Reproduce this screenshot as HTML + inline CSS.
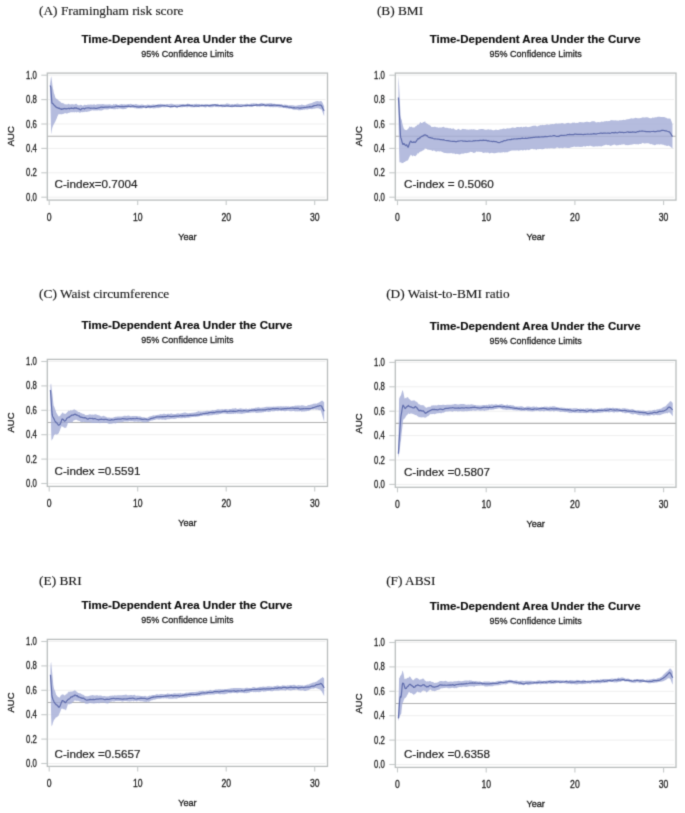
<!DOCTYPE html>
<html><head><meta charset="utf-8"><title>Time-Dependent AUC</title>
<style>
html,body{margin:0;padding:0;background:#fff;}
body{width:685px;height:813px;overflow:hidden;font-family:"Liberation Sans",sans-serif;}
svg{display:block}
text{font-family:"Liberation Sans",sans-serif;fill:#222;}
.lb{font-family:"Liberation Serif",serif;font-size:13.3px;fill:#1a1a1a;stroke:#1a1a1a;stroke-width:0.15px}
.tt{font-weight:bold;font-size:11.7px;fill:#0c0c0c;stroke:#0c0c0c;stroke-width:0.15px}
.st{font-size:9.6px;fill:#222;stroke:#1c1c1c;stroke-width:0.28px}
.tk{font-size:10.1px;fill:#222;stroke:#222;stroke-width:0.3px}
.ax{font-size:9.8px;fill:#1c1c1c;stroke:#1c1c1c;stroke-width:0.32px}
.ci{font-size:11.5px;fill:#222;stroke:#222;stroke-width:0.2px}
</style></head>
<body>
<svg width="685" height="813" viewBox="0 0 685 813">
<defs><filter id="sb" x="0" y="0" width="100%" height="100%" filterUnits="userSpaceOnUse" color-interpolation-filters="sRGB"><feConvolveMatrix order="3" kernelMatrix="1 5 1 5 25 5 1 5 1" edgeMode="duplicate" preserveAlpha="true"/></filter></defs>
<g filter="url(#sb)">
<rect width="685" height="813" fill="#fff"/>
<g>
<text x="39.1" y="14.9" class="lb">(A) Framingham risk score</text>
<text x="186.9" y="42.9" class="tt" text-anchor="middle" textLength="210.8" lengthAdjust="spacingAndGlyphs">Time-Dependent Area Under the Curve</text>
<text x="187.4" y="56.7" class="st" text-anchor="middle" textLength="92.2" lengthAdjust="spacingAndGlyphs">95% Confidence Limits</text>
<rect x="47.3" y="73.1" width="280.2" height="127" fill="#fff"/>
<line x1="47.3" x2="325.5" y1="197.2" y2="197.2" stroke="#efefef" stroke-width="1"/>
<line x1="47.3" x2="325.5" y1="172.8" y2="172.8" stroke="#efefef" stroke-width="1"/>
<line x1="47.3" x2="325.5" y1="148.4" y2="148.4" stroke="#efefef" stroke-width="1"/>
<line x1="47.3" x2="325.5" y1="124" y2="124" stroke="#efefef" stroke-width="1"/>
<line x1="47.3" x2="325.5" y1="99.6" y2="99.6" stroke="#efefef" stroke-width="1"/>
<line x1="47.3" x2="325.5" y1="75.2" y2="75.2" stroke="#efefef" stroke-width="1"/>
<line x1="47.3" x2="327.5" y1="136.2" y2="136.2" stroke="#b0b0b0" stroke-width="1.1"/>
<g class="d">
<polygon points="50.09,83.62 50.44,81.45 50.79,78.3 51.15,76.24 51.5,77.95 51.86,80.38 52.21,83.39 52.56,86.21 52.92,88.71 53.27,89.42 53.62,91.71 53.98,93.49 54.33,94.03 54.69,95.18 55.04,96.52 55.4,97.66 55.75,98.2 56.1,98.53 56.46,98.79 56.81,99.07 57.17,99.31 57.52,99.41 57.87,99.54 58.23,100.14 58.58,100.13 58.94,100.92 59.29,100.92 59.64,101.23 60,101.61 60.35,101.74 60.71,101.96 61.06,102.66 61.41,102.92 61.77,102.7 62.12,102.81 62.48,103.04 62.83,103.15 63.18,103.16 63.54,103.39 63.89,103.62 64.25,103.7 64.6,104.37 64.95,104.43 65.31,104.25 65.66,104.28 66.02,104.5 66.37,104.13 66.72,104.51 67.08,104.47 67.43,104.38 67.79,104.07 68.14,103.97 68.49,103.72 68.85,103.75 69.2,104.26 69.56,104.37 69.91,104.41 70.26,104.52 70.62,104.38 70.97,104.26 71.33,104.05 71.68,104.4 72.03,104.32 72.39,104.37 72.74,104.12 73.1,104.57 73.45,104.28 73.8,104.4 74.16,104.35 74.51,104.38 74.87,104.46 75.22,104.08 75.57,104.1 75.93,103.79 76.28,103.79 76.64,103.98 76.99,104.22 77.34,104.64 77.7,105 78.05,104.97 78.41,105.33 78.76,105.41 79.11,105.12 79.47,105.54 79.82,105.31 80.18,105.03 80.53,104.8 80.88,104.64 81.24,104.89 81.59,105.11 81.95,105.12 82.3,105.51 82.65,105.93 83.01,105.79 83.36,105.6 83.72,105.25 84.07,105.03 84.42,104.74 84.78,104.8 85.84,105.05 86.9,105.08 87.96,104.61 89.03,104.71 90.09,104.58 91.15,104.41 92.21,104.82 93.27,104.44 94.34,104.3 95.4,105.04 96.46,104.44 97.52,104.25 98.58,104.27 99.65,104.21 100.71,104.34 101.77,104.15 102.83,104.01 103.89,104.37 104.96,104.43 106.02,104.41 107.08,104.39 108.14,104.53 109.2,104.37 110.27,104.46 111.33,104.67 112.39,104.91 113.45,104.07 114.51,104.47 115.58,104.02 116.64,104.23 117.7,104.65 118.76,105.11 119.82,104.57 120.89,104.17 121.95,104.06 123.01,104.44 124.07,104.18 125.13,104.55 126.2,104.59 127.26,104.25 128.32,103.93 129.38,104.22 130.44,103.74 131.5,103.94 132.57,104.54 133.63,104.44 134.69,104.43 135.75,103.93 136.81,104.15 137.88,104.69 138.94,104.69 140,104.96 141.06,104.58 142.12,104.48 143.19,104.77 144.25,105.11 145.31,105.12 146.37,105.07 147.43,104.59 148.5,104.78 149.56,104.86 150.62,104.93 151.68,104.81 152.74,104.54 153.81,104.54 154.87,104.73 155.93,104.72 156.99,104.75 158.05,103.93 159.12,104.32 160.18,103.66 161.24,103.95 162.3,103.96 163.36,104.21 164.43,104.31 165.49,104.4 166.55,104.08 167.61,103.88 168.67,104.16 169.74,104 170.8,103.73 171.86,103.74 172.92,104.07 173.98,104.61 175.05,104.51 176.11,104.42 177.17,104.13 178.23,104.49 179.29,104.26 180.36,104.32 181.42,104.37 182.48,103.99 183.54,104.06 184.6,104.22 185.67,104.72 186.73,104.1 187.79,103.54 188.85,104.04 189.91,104.31 190.98,104.53 192.04,104.08 193.1,104.47 194.16,104.04 195.22,104.04 196.29,103.64 197.35,104.12 198.41,104.01 199.47,104.05 200.53,104.55 201.6,104.45 202.66,104.28 203.72,104.57 204.78,104.22 205.84,103.97 206.91,104.22 207.97,104.28 209.03,104.38 210.09,104.36 211.15,104.48 212.22,104.28 213.28,104.15 214.34,104.43 215.4,104.17 216.46,104.02 217.53,103.72 218.59,104.52 219.65,104.67 220.71,104.73 221.77,104.31 222.84,104.29 223.9,104.32 224.96,104.26 226.02,103.64 227.08,103.34 228.15,103.66 229.21,103.73 230.27,104.41 231.33,104.2 232.39,103.93 233.46,104.38 234.52,103.92 235.58,104.01 236.64,103.66 237.7,103.57 238.77,103.93 239.83,104.13 240.89,104.06 241.95,103.92 243.01,104.21 244.08,104.13 245.14,104.01 246.2,103.85 247.26,103.81 248.33,104.03 249.39,104 250.45,103.78 251.51,103.51 252.57,103.54 253.64,103.33 254.7,103.46 255.76,103.54 256.82,103.58 257.88,103.95 258.95,103.68 260.01,103.46 261.07,103.03 262.13,103.12 263.19,103.55 264.26,103.44 265.32,103.71 266.38,103.44 267.44,103.59 268.5,103.61 269.57,103.24 270.63,103.35 271.69,103.3 272.75,103.78 273.81,103.84 274.88,103.87 275.94,104.16 277,104.06 278.06,104.33 279.12,104.16 280.19,104.21 281.25,104.07 282.31,104.52 283.37,104.88 284.43,104.62 285.5,104.72 286.56,104.74 287.62,105.05 288.68,105.61 289.74,105.15 290.81,105.37 291.87,105.36 292.93,105.22 293.99,105.54 295.05,105.74 296.12,105.65 297.18,105.4 298.24,105.25 299.3,105.11 300.36,105.17 301.43,104.62 302.49,104.81 303.55,104.94 304.61,105.28 305.67,105.15 306.74,104.52 307.8,104.22 308.86,103.72 309.92,103.53 310.98,103.31 312.05,103.01 313.11,102.34 314.17,101.97 315.23,101.5 316.29,101.34 317.36,101.12 318.42,101.37 319.48,101.48 320.54,101.04 321.6,101.28 322.67,103.12 323.73,105.5 324.17,106.59 324.17,116.11 323.73,115.22 322.67,112.37 321.6,109.46 320.54,109.16 319.48,108.63 318.42,108.28 317.36,108.21 316.29,108.37 315.23,108.56 314.17,108.82 313.11,108.87 312.05,109.21 310.98,108.89 309.92,108.98 308.86,109.08 307.8,109.58 306.74,109.5 305.67,109.16 304.61,109.7 303.55,109.61 302.49,109.93 301.43,109.91 300.36,110.32 299.3,110.23 298.24,110.23 297.18,109.78 296.12,109.72 295.05,109.63 293.99,109.77 292.93,109.51 291.87,109.07 290.81,108.76 289.74,108.99 288.68,108.63 287.62,108.27 286.56,108.46 285.5,108.11 284.43,107.77 283.37,108.03 282.31,107.45 281.25,107.52 280.19,107.39 279.12,107.48 278.06,107.18 277,106.93 275.94,107.28 274.88,107.1 273.81,107.16 272.75,107.15 271.69,106.91 270.63,107.25 269.57,107.05 268.5,106.78 267.44,106.43 266.38,106.63 265.32,106.67 264.26,106.44 263.19,106.02 262.13,106.27 261.07,106.34 260.01,106.71 258.95,106.6 257.88,106.6 256.82,106.63 255.76,106.09 254.7,105.91 253.64,106.13 252.57,106.46 251.51,106.81 250.45,106.45 249.39,106.43 248.33,106.59 247.26,106.78 246.2,106.84 245.14,106.67 244.08,106.46 243.01,106.14 241.95,106.61 240.89,106.71 239.83,106.76 238.77,106.84 237.7,106.62 236.64,106.82 235.58,106.85 234.52,106.99 233.46,106.99 232.39,107.18 231.33,107.23 230.27,106.91 229.21,106.57 228.15,106.73 227.08,106.77 226.02,106.58 224.96,106.67 223.9,106.92 222.84,107.2 221.77,107.22 220.71,106.82 219.65,106.79 218.59,107.29 217.53,106.9 216.46,107.04 215.4,107.01 214.34,106.59 213.28,106.99 212.22,107.26 211.15,107.33 210.09,107.2 209.03,107 207.97,106.86 206.91,106.83 205.84,107.38 204.78,107.2 203.72,106.99 202.66,106.54 201.6,106.83 200.53,106.51 199.47,107.15 198.41,107.11 197.35,106.68 196.29,107.13 195.22,107.06 194.16,107.14 193.1,107.29 192.04,107.15 190.98,107.2 189.91,106.9 188.85,106.85 187.79,107.14 186.73,107.14 185.67,107.01 184.6,106.89 183.54,106.97 182.48,107.3 181.42,107.27 180.36,107.16 179.29,107.09 178.23,106.87 177.17,107.38 176.11,107 175.05,107.16 173.98,106.65 172.92,107.05 171.86,106.71 170.8,107.21 169.74,107.01 168.67,106.87 167.61,106.56 166.55,107.08 165.49,107.13 164.43,107.32 163.36,107.14 162.3,107.11 161.24,107.24 160.18,107.66 159.12,107.85 158.05,108.29 156.99,107.81 155.93,108.2 154.87,108.35 153.81,108.47 152.74,108.15 151.68,108.05 150.62,108.13 149.56,108.19 148.5,108 147.43,107.82 146.37,108.21 145.31,108.23 144.25,107.82 143.19,108.05 142.12,108.55 141.06,108.49 140,108.49 138.94,108.44 137.88,108.46 136.81,108.52 135.75,108.31 134.69,108.13 133.63,108.04 132.57,107.68 131.5,107.72 130.44,107.49 129.38,107.48 128.32,107.57 127.26,108.04 126.2,108.72 125.13,108.93 124.07,108.88 123.01,109.13 121.95,108.9 120.89,108.65 119.82,108.53 118.76,108.5 117.7,109.28 116.64,108.84 115.58,109.18 114.51,109.17 113.45,109.3 112.39,108.97 111.33,109.04 110.27,108.76 109.2,109.09 108.14,109.54 107.08,109.51 106.02,109.61 104.96,109.29 103.89,109.53 102.83,110 101.77,110.55 100.71,110.62 99.65,110.59 98.58,110.29 97.52,110.51 96.46,110.4 95.4,110.6 94.34,110.57 93.27,110.43 92.21,110.29 91.15,110.64 90.09,110.88 89.03,111.42 87.96,111.47 86.9,111.96 85.84,111.86 84.78,111.66 84.42,111.95 84.07,112.13 83.72,111.91 83.36,111.94 83.01,112.14 82.65,112.28 82.3,112.13 81.95,112.01 81.59,112.02 81.24,112.23 80.88,112.39 80.53,112.4 80.18,112.54 79.82,112.36 79.47,112.9 79.11,112.59 78.76,112.19 78.41,112.03 78.05,112.14 77.7,112.15 77.34,111.75 76.99,112.36 76.64,112.39 76.28,112.44 75.93,111.8 75.57,111.97 75.22,112.21 74.87,112.17 74.51,112.15 74.16,112.42 73.8,112.07 73.45,112.2 73.1,112.17 72.74,112.23 72.39,112.18 72.03,112.23 71.68,112.47 71.33,112.08 70.97,112.05 70.62,112 70.26,112.69 69.91,112.43 69.56,112.73 69.2,112.82 68.85,113.1 68.49,112.71 68.14,112.98 67.79,113.19 67.43,113.32 67.08,113.77 66.72,113.44 66.37,113.59 66.02,113.52 65.66,113.02 65.31,113.32 64.95,113.34 64.6,113.35 64.25,113.54 63.89,113.59 63.54,113.9 63.18,114.1 62.83,114.19 62.48,114.05 62.12,113.97 61.77,114.24 61.41,114.2 61.06,114.62 60.71,114.24 60.35,114.35 60,113.71 59.64,114.33 59.29,114.33 58.94,114.58 58.58,114.12 58.23,114.75 57.87,115.39 57.52,116.34 57.17,117.09 56.81,118.19 56.46,118.89 56.1,119.65 55.75,120.62 55.4,121.59 55.04,121.92 54.69,122.73 54.33,123.38 53.98,123.65 53.62,124.74 53.27,125.34 52.92,126.27 52.56,127.08 52.21,128.34 51.86,130.04 51.5,132.54 51.15,134.18 50.79,118.96 50.44,103.52 50.09,87.76" fill="#a3abd6" fill-opacity="0.8"/>
<polyline points="50.09,85.48 50.44,86.36 50.79,87.27 51.15,92.6 51.5,97.91 51.86,102.91 52.21,103.34 52.56,103.31 52.92,103.63 53.27,104.1 53.62,104.63 53.98,104.96 54.33,105.39 54.69,105.87 55.04,105.93 55.4,106.16 55.75,106.89 56.1,107.11 56.46,107.11 56.81,107.68 57.17,107.57 57.52,107.57 57.87,107.99 58.23,108.24 58.58,108.31 58.94,107.88 59.29,108.29 59.64,108.58 60,108.96 60.35,108.83 60.71,108.81 61.06,109.24 61.41,109.43 61.77,108.8 62.12,108.92 62.48,109.22 62.83,109.07 63.18,108.88 63.54,109.01 63.89,108.6 64.25,108.4 64.6,108.66 64.95,108.63 65.31,108.49 65.66,108.84 66.02,108.9 66.37,108.71 66.72,108.83 67.08,108.66 67.43,108.76 67.79,108.76 68.14,108.47 68.49,108.47 68.85,108.27 69.2,108.49 69.56,108.82 69.91,108.37 70.26,108.39 70.62,108.43 70.97,108.16 71.33,107.94 71.68,108.44 72.03,108.33 72.39,108.24 72.74,108.25 73.1,108.49 73.45,108.47 73.8,108.68 74.16,108.05 74.51,108.13 74.87,107.67 75.22,107.87 75.57,108.18 75.93,108.29 76.28,108.1 76.64,107.88 76.99,108.4 77.34,108.47 77.7,108.61 78.05,108.48 78.41,108.94 78.76,108.94 79.11,109.01 79.47,108.92 79.82,109.45 80.18,109.66 80.53,109.95 80.88,109.76 81.24,109.23 81.59,108.7 81.95,108.77 82.3,108.75 82.65,108.53 83.01,108.23 83.36,108.29 83.72,108.46 84.07,108.62 84.42,108.92 84.78,108.65 85.84,108.05 86.9,108.01 87.96,107.92 89.03,107.81 90.09,108.28 91.15,108.18 92.21,108.25 93.27,108.18 94.34,108.2 95.4,108.34 96.46,108.33 97.52,108.15 98.58,107.83 99.65,107.58 100.71,107.2 101.77,107.2 102.83,107.41 103.89,107.32 104.96,107.11 106.02,107.1 107.08,107.09 108.14,107.13 109.2,106.95 110.27,106.99 111.33,107.28 112.39,107.1 113.45,107.01 114.51,106.86 115.58,106.54 116.64,106.06 117.7,106.46 118.76,106.34 119.82,106.57 120.89,106.71 121.95,106.41 123.01,106.57 124.07,106.53 125.13,106.42 126.2,106.31 127.26,106.32 128.32,106.18 129.38,106.29 130.44,106.69 131.5,106.3 132.57,105.96 133.63,106.13 134.69,106.49 135.75,106.52 136.81,106.8 137.88,106.93 138.94,107.12 140,106.7 141.06,106.85 142.12,106.75 143.19,106.47 144.25,106.77 145.31,107.04 146.37,107.49 147.43,106.72 148.5,106.36 149.56,106.56 150.62,106.87 151.68,106.68 152.74,106.52 153.81,106.36 154.87,106.29 155.93,105.91 156.99,105.59 158.05,105.81 159.12,105.88 160.18,105.91 161.24,105.78 162.3,105.76 163.36,105.72 164.43,105.56 165.49,105.75 166.55,106 167.61,106.08 168.67,106.51 169.74,106.64 170.8,106.84 171.86,106.34 172.92,106.57 173.98,106.19 175.05,106.21 176.11,106.64 177.17,107.02 178.23,106.51 179.29,106.46 180.36,105.96 181.42,105.55 182.48,105.6 183.54,105.7 184.6,105.66 185.67,105.31 186.73,105.3 187.79,105.17 188.85,105.33 189.91,105.16 190.98,105.71 192.04,105.5 193.1,106.02 194.16,106.23 195.22,105.9 196.29,105.73 197.35,106.03 198.41,106.07 199.47,105.77 200.53,105.73 201.6,105.44 202.66,105.54 203.72,105.51 204.78,105.55 205.84,105.75 206.91,105.47 207.97,105.5 209.03,105.91 210.09,105.55 211.15,105.33 212.22,105.14 213.28,105.04 214.34,104.8 215.4,104.84 216.46,105.34 217.53,105.28 218.59,105.44 219.65,105.57 220.71,105.35 221.77,105.63 222.84,106 223.9,105.87 224.96,106.31 226.02,105.9 227.08,105.79 228.15,105.8 229.21,106.09 230.27,106.28 231.33,106.16 232.39,106.17 233.46,106.06 234.52,105.9 235.58,105.77 236.64,106.13 237.7,106.16 238.77,106.01 239.83,106.19 240.89,106.34 241.95,106.24 243.01,105.78 244.08,105.74 245.14,105.57 246.2,105.55 247.26,105.43 248.33,105.51 249.39,105.62 250.45,105.68 251.51,105.38 252.57,105.57 253.64,105.37 254.7,105.37 255.76,105.08 256.82,104.89 257.88,105.07 258.95,105.13 260.01,104.89 261.07,105.05 262.13,105.21 263.19,104.65 264.26,104.95 265.32,105.31 266.38,105.46 267.44,105.09 268.5,105.09 269.57,105.32 270.63,105.4 271.69,105.1 272.75,105.34 273.81,105.14 274.88,105.11 275.94,105.28 277,105.32 278.06,105.34 279.12,105.44 280.19,105.57 281.25,105.72 282.31,106 283.37,106.62 284.43,106.61 285.5,106.42 286.56,106.62 287.62,106.85 288.68,107.27 289.74,107.21 290.81,107.3 291.87,107.66 292.93,107.84 293.99,107.68 295.05,107.91 296.12,107.99 297.18,107.74 298.24,107.75 299.3,108.19 300.36,108.06 301.43,107.86 302.49,107.74 303.55,107.71 304.61,107.39 305.67,107.53 306.74,107.19 307.8,107.06 308.86,106.89 309.92,106.67 310.98,106.99 312.05,106.65 313.11,106.09 314.17,105.6 315.23,105.52 316.29,105.34 317.36,104.97 318.42,105.02 319.48,105.08 320.54,105 321.6,105.81 322.67,108.3 323.73,110.06 324.17,110.76" fill="none" stroke="#5f6cac" stroke-width="1.2" stroke-linejoin="round"/>
</g>
<rect x="47.3" y="73.1" width="280.2" height="127" fill="none" stroke="#b9bdbd" stroke-width="1.3"/>
<line x1="41.3" x2="47.3" y1="197.2" y2="197.2" stroke="#c6caca" stroke-width="1.1"/>
<text x="36.9" y="200.7" class="tk" text-anchor="end" textLength="10.8" lengthAdjust="spacingAndGlyphs">0.0</text>
<line x1="41.3" x2="47.3" y1="172.8" y2="172.8" stroke="#c6caca" stroke-width="1.1"/>
<text x="36.9" y="176.3" class="tk" text-anchor="end" textLength="10.8" lengthAdjust="spacingAndGlyphs">0.2</text>
<line x1="41.3" x2="47.3" y1="148.4" y2="148.4" stroke="#c6caca" stroke-width="1.1"/>
<text x="36.9" y="151.9" class="tk" text-anchor="end" textLength="10.8" lengthAdjust="spacingAndGlyphs">0.4</text>
<line x1="41.3" x2="47.3" y1="124" y2="124" stroke="#c6caca" stroke-width="1.1"/>
<text x="36.9" y="127.5" class="tk" text-anchor="end" textLength="10.8" lengthAdjust="spacingAndGlyphs">0.6</text>
<line x1="41.3" x2="47.3" y1="99.6" y2="99.6" stroke="#c6caca" stroke-width="1.1"/>
<text x="36.9" y="103.1" class="tk" text-anchor="end" textLength="10.8" lengthAdjust="spacingAndGlyphs">0.8</text>
<line x1="41.3" x2="47.3" y1="75.2" y2="75.2" stroke="#c6caca" stroke-width="1.1"/>
<text x="36.9" y="78.7" class="tk" text-anchor="end" textLength="10.8" lengthAdjust="spacingAndGlyphs">1.0</text>
<line x1="49.2" x2="49.2" y1="200.1" y2="205.1" stroke="#c6caca" stroke-width="1.1"/>
<text x="49.2" y="220.7" class="tk" text-anchor="middle" textLength="4.8" lengthAdjust="spacingAndGlyphs">0</text>
<line x1="137.7" x2="137.7" y1="200.1" y2="205.1" stroke="#c6caca" stroke-width="1.1"/>
<text x="137.7" y="220.7" class="tk" text-anchor="middle" textLength="9.6" lengthAdjust="spacingAndGlyphs">10</text>
<line x1="226.2" x2="226.2" y1="200.1" y2="205.1" stroke="#c6caca" stroke-width="1.1"/>
<text x="226.2" y="220.7" class="tk" text-anchor="middle" textLength="9.6" lengthAdjust="spacingAndGlyphs">20</text>
<line x1="314.7" x2="314.7" y1="200.1" y2="205.1" stroke="#c6caca" stroke-width="1.1"/>
<text x="314.7" y="220.7" class="tk" text-anchor="middle" textLength="9.6" lengthAdjust="spacingAndGlyphs">30</text>
<text x="187.4" y="240.1" class="ax" text-anchor="middle" textLength="18.4" lengthAdjust="spacingAndGlyphs">Year</text>
<text transform="translate(14.2,136.2) rotate(-90)" class="ax" text-anchor="middle" textLength="20" lengthAdjust="spacingAndGlyphs">AUC</text>
<text x="54.5" y="188.2" class="ci" textLength="82.9" lengthAdjust="spacingAndGlyphs">C-index=0.7004</text>
</g>
<g>
<text x="376.9" y="14.9" class="lb">(B) BMI</text>
<text x="535.15" y="42.9" class="tt" text-anchor="middle" textLength="210.8" lengthAdjust="spacingAndGlyphs">Time-Dependent Area Under the Curve</text>
<text x="535.65" y="56.7" class="st" text-anchor="middle" textLength="92.2" lengthAdjust="spacingAndGlyphs">95% Confidence Limits</text>
<rect x="395.3" y="73.1" width="280.7" height="127" fill="#fff"/>
<line x1="395.3" x2="674" y1="197.2" y2="197.2" stroke="#efefef" stroke-width="1"/>
<line x1="395.3" x2="674" y1="172.8" y2="172.8" stroke="#efefef" stroke-width="1"/>
<line x1="395.3" x2="674" y1="148.4" y2="148.4" stroke="#efefef" stroke-width="1"/>
<line x1="395.3" x2="674" y1="124" y2="124" stroke="#efefef" stroke-width="1"/>
<line x1="395.3" x2="674" y1="99.6" y2="99.6" stroke="#efefef" stroke-width="1"/>
<line x1="395.3" x2="674" y1="75.2" y2="75.2" stroke="#efefef" stroke-width="1"/>
<line x1="395.3" x2="676" y1="136.2" y2="136.2" stroke="#b0b0b0" stroke-width="1.1"/>
<g class="d">
<polygon points="398.39,75.71 398.74,80.24 399.1,85.43 399.45,92.35 399.81,100.04 400.16,108.16 400.52,115.97 400.87,118.36 401.23,119.07 401.58,119.87 401.94,121.02 402.29,123.21 402.64,124.47 403,126 403.35,126.99 403.71,128.39 404.06,128.81 404.42,129.22 404.77,129.71 405.13,129.91 405.48,129.93 405.84,129.65 406.19,130.08 406.55,130.1 406.9,130.28 407.26,129.29 407.61,129.46 407.97,128.98 408.32,128.6 408.68,128.29 409.03,127.44 409.39,127.11 409.74,126.36 410.1,126.54 410.45,126.91 410.81,127.26 411.16,126.58 411.51,126.84 411.87,127 412.22,127.02 412.58,127.54 412.93,127.64 413.29,127.18 413.64,127.81 414,127.24 414.35,127.41 414.71,127.29 415.06,127.17 415.42,126.4 415.77,126.03 416.13,125.97 416.48,126.03 416.84,125.54 417.19,125.08 417.55,124.68 417.9,124.52 418.26,124.91 418.61,124.16 418.97,124.2 419.32,123.94 419.68,122.92 420.03,122.49 420.38,121.93 420.74,122.17 421.09,122.93 421.45,123.03 421.8,122.98 422.16,123.19 422.51,122.4 422.87,122.45 423.22,121.91 423.58,121.97 423.93,122.17 424.29,121.9 424.64,121.55 425,121.25 425.35,121.82 425.71,122.94 426.06,123.32 426.42,122.63 426.77,123.48 427.13,123.65 427.48,123.94 427.84,123.75 428.19,124.2 428.55,124.87 428.9,124.77 429.25,124.75 429.61,125.12 429.96,125.46 430.32,125.55 430.67,125.75 431.03,126.31 431.38,127.01 431.74,127.05 432.09,127.08 432.45,126.7 432.8,127.02 433.16,126.88 434.22,126.85 435.29,126.84 436.35,127.23 437.42,127.36 438.48,127.67 439.54,127.48 440.61,127.54 441.67,127.46 442.74,126.97 443.8,126.82 444.87,127.73 445.93,127.75 446.99,127.87 448.06,128.11 449.12,128.39 450.19,128.02 451.25,128.72 452.32,128.85 453.38,128.35 454.45,129.24 455.51,129.78 456.57,129.98 457.64,129.3 458.7,128.81 459.77,129.63 460.83,129.9 461.9,129.33 462.96,128.81 464.03,129.28 465.09,129.01 466.15,129.59 467.22,129.39 468.28,129.64 469.35,129.42 470.41,129.53 471.48,129.32 472.54,129.45 473.6,129.13 474.67,129.44 475.73,129.65 476.8,130.1 477.86,130.09 478.93,129.35 479.99,129.17 481.06,129.05 482.12,128.92 483.18,128.99 484.25,129.59 485.31,129.66 486.38,129.67 487.44,129.6 488.51,129.24 489.57,129.66 490.63,129.58 491.7,129.71 492.76,130.35 493.83,130.22 494.89,129.99 495.96,129.59 497.02,130.02 498.09,129.96 499.15,129.76 500.21,129.28 501.28,129.17 502.34,129.09 503.41,128.56 504.47,128.79 505.54,128.91 506.6,128.41 507.67,128.22 508.73,128.39 509.79,128.22 510.86,128.37 511.92,127.55 512.99,127.52 514.05,127.77 515.12,127.92 516.18,127.28 517.24,126.94 518.31,127 519.37,127.18 520.44,126.94 521.5,126.8 522.57,127.51 523.63,126.71 524.7,126.98 525.76,126.56 526.82,126.7 527.89,127.36 528.95,127.05 530.02,126.8 531.08,126.51 532.15,126.01 533.21,125.64 534.28,125.65 535.34,125.59 536.4,126.37 537.47,126.41 538.53,125.78 539.6,125.51 540.66,124.98 541.73,125.3 542.79,124.82 543.85,125.27 544.92,125.01 545.98,124.74 547.05,124.35 548.11,124.73 549.18,124.63 550.24,124.32 551.31,124.19 552.37,123.99 553.43,124.15 554.5,123.92 555.56,123.53 556.63,123.61 557.69,123.76 558.76,123.55 559.82,123.62 560.89,123.48 561.95,122.95 563.01,123.22 564.08,123.64 565.14,123.63 566.21,123.18 567.27,123.02 568.34,122.73 569.4,123.26 570.46,123.4 571.53,123.19 572.59,122.59 573.66,122.84 574.72,122.38 575.79,123.18 576.85,122.72 577.92,122.9 578.98,122.37 580.04,121.97 581.11,122.23 582.17,122.29 583.24,122.47 584.3,122.24 585.37,121.98 586.43,121.7 587.5,121.74 588.56,121.98 589.62,122.36 590.69,121.97 591.75,121.37 592.82,121.29 593.88,121.14 594.95,121.53 596.01,122.46 597.08,122.34 598.14,122.12 599.2,122.27 600.27,122.33 601.33,121.56 602.4,121.65 603.46,121.75 604.53,121.14 605.59,121.21 606.65,120.91 607.72,121.15 608.78,120.93 609.85,120.89 610.91,120.02 611.98,120.3 613.04,120.26 614.11,120.45 615.17,120.25 616.23,120.46 617.3,120.47 618.36,120.67 619.43,120.23 620.49,120.29 621.56,120.37 622.62,119.92 623.69,119.82 624.75,119.88 625.81,119.72 626.88,119.35 627.94,119.23 629.01,119.12 630.07,118.85 631.14,118.17 632.2,118.44 633.26,118.42 634.33,118.23 635.39,117.83 636.46,117.98 637.52,118.14 638.59,118.24 639.65,118.27 640.72,118.12 641.78,117.84 642.84,117.21 643.91,117.4 644.97,117.43 646.04,117.19 647.1,117.35 648.17,117.6 649.23,117.95 650.3,118.27 651.36,118.26 652.42,117.54 653.49,117.77 654.55,117.56 655.62,117.25 656.68,117.19 657.75,116.77 658.81,116.76 659.87,116.75 660.94,116.92 662,116.89 663.07,117.08 664.13,117.1 665.2,117.4 666.26,117.87 667.33,118.38 668.39,118.55 669.45,118.6 670.52,118.64 671.58,121.62 672.47,124.16 672.47,148.55 671.58,147.77 670.52,146.68 669.45,146.06 668.39,145.56 667.33,146.1 666.26,145.63 665.2,145.25 664.13,145.25 663.07,144.43 662,144.65 660.94,144.12 659.87,144.74 658.81,144.35 657.75,144.57 656.68,144.19 655.62,145.12 654.55,145.2 653.49,144.85 652.42,144.6 651.36,144.03 650.3,144.2 649.23,143.38 648.17,143.24 647.1,143.24 646.04,143.13 644.97,143.46 643.91,143.61 642.84,142.85 641.78,143.49 640.72,143.9 639.65,143.82 638.59,144.5 637.52,144.36 636.46,144.25 635.39,144.24 634.33,143.93 633.26,144.32 632.2,144.57 631.14,144.65 630.07,144.65 629.01,144.89 627.94,145.19 626.88,145.08 625.81,145.29 624.75,144.51 623.69,144.27 622.62,144.41 621.56,144.44 620.49,144.89 619.43,144.74 618.36,145.32 617.3,145.27 616.23,145.47 615.17,144.76 614.11,144.48 613.04,145.12 611.98,145.33 610.91,146.01 609.85,145.6 608.78,145.11 607.72,145.14 606.65,144.84 605.59,144.82 604.53,145.13 603.46,145.6 602.4,146.1 601.33,146.4 600.27,146.29 599.2,146.36 598.14,146.23 597.08,146.61 596.01,146.14 594.95,146.59 593.88,146.77 592.82,146.56 591.75,146.35 590.69,145.7 589.62,145.7 588.56,146.21 587.5,146.08 586.43,146.07 585.37,146.67 584.3,146.29 583.24,146.15 582.17,146.88 581.11,146.65 580.04,147.05 578.98,146.69 577.92,146.79 576.85,146.71 575.79,146.95 574.72,146.48 573.66,146.81 572.59,146.89 571.53,147.15 570.46,147.4 569.4,148.06 568.34,147.93 567.27,148.04 566.21,147.7 565.14,147.82 564.08,147.54 563.01,148.27 561.95,148.08 560.89,147.71 559.82,148.37 558.76,148.1 557.69,147.53 556.63,147.61 555.56,148.24 554.5,148.4 553.43,148.62 552.37,148.19 551.31,148.13 550.24,148.21 549.18,148.5 548.11,148.29 547.05,148.85 545.98,148.13 544.92,148.54 543.85,149.03 542.79,149.22 541.73,149.23 540.66,149.08 539.6,149.12 538.53,149.15 537.47,148.92 536.4,149.97 535.34,149.34 534.28,149.28 533.21,149.18 532.15,148.63 531.08,149.1 530.02,149.43 528.95,150.14 527.89,149.82 526.82,149.63 525.76,150.51 524.7,149.76 523.63,150.31 522.57,150.53 521.5,150.11 520.44,150.16 519.37,150.4 518.31,150.65 517.24,150.2 516.18,150.53 515.12,150.42 514.05,150.54 512.99,150.49 511.92,150.56 510.86,150.64 509.79,151.15 508.73,151.62 507.67,152.13 506.6,152.36 505.54,152.21 504.47,152.39 503.41,152.01 502.34,152.56 501.28,152.42 500.21,152.85 499.15,152.61 498.09,152.48 497.02,152.73 495.96,152.92 494.89,153.13 493.83,153.33 492.76,153.08 491.7,152.67 490.63,152.94 489.57,153.61 488.51,152.79 487.44,152.59 486.38,152.63 485.31,152.54 484.25,152.77 483.18,152.89 482.12,152.19 481.06,151.77 479.99,151.88 478.93,151.6 477.86,152.03 476.8,151.32 475.73,152.28 474.67,152.69 473.6,152.95 472.54,152.34 471.48,152.05 470.41,151.69 469.35,152.43 468.28,152.74 467.22,152.92 466.15,153.19 465.09,153.07 464.03,153.47 462.96,153.82 461.9,153.5 460.83,153.92 459.77,154.4 458.7,154.24 457.64,154.09 456.57,153.83 455.51,154.15 454.45,153.39 453.38,153.43 452.32,153.48 451.25,153.06 450.19,153.28 449.12,153.32 448.06,153.23 446.99,153.32 445.93,153.12 444.87,152.9 443.8,152.83 442.74,152.31 441.67,151.77 440.61,151.25 439.54,151.41 438.48,151.29 437.42,151.22 436.35,151.66 435.29,151.35 434.22,150.61 433.16,150.52 432.8,151.07 432.45,151.11 432.09,150.86 431.74,150.46 431.38,150.18 431.03,149.93 430.67,150.18 430.32,150 429.96,149.47 429.61,150.07 429.25,149.99 428.9,149.8 428.55,149.69 428.19,149.46 427.84,149.92 427.48,149.42 427.13,149.13 426.77,148.92 426.42,148.74 426.06,148.82 425.71,148.83 425.35,148.53 425,148.26 424.64,148.79 424.29,149.75 423.93,150.45 423.58,150.31 423.22,149.77 422.87,150.25 422.51,150.82 422.16,150.92 421.8,151.36 421.45,151.16 421.09,151.47 420.74,151.53 420.38,151.78 420.03,151.81 419.68,151.95 419.32,152.17 418.97,152.9 418.61,153.64 418.26,153.24 417.9,152.81 417.55,153.53 417.19,154.2 416.84,154.6 416.48,155.21 416.13,155.35 415.77,155.81 415.42,156.25 415.06,156.19 414.71,155.93 414.35,156.01 414,155.78 413.64,155.46 413.29,155.44 412.93,155.72 412.58,156.04 412.22,156.48 411.87,155.88 411.51,155.07 411.16,155.1 410.81,154.78 410.45,155.5 410.1,155.65 409.74,156.44 409.39,157.37 409.03,157.7 408.68,158.75 408.32,159.73 407.97,159.81 407.61,160.71 407.26,160.55 406.9,160.81 406.55,160.81 406.19,161.01 405.84,161.31 405.48,161.32 405.13,161.63 404.77,161.9 404.42,161.98 404.06,161.9 403.71,162.29 403.35,163.07 403,163.02 402.64,162.98 402.29,163.09 401.94,163.38 401.58,162.45 401.23,162.83 400.87,162.48 400.52,162.23 400.16,162.2 399.81,162.43 399.45,162.09 399.1,151.81 398.74,131.84 398.39,111.73" fill="#a3abd6" fill-opacity="0.8"/>
<polyline points="398.39,97.56 398.74,103.15 399.1,108.85 399.45,115.23 399.81,122.88 400.16,130.03 400.52,136.52 400.87,137.88 401.23,138.82 401.58,140.22 401.94,141.55 402.29,142.71 402.64,143.9 403,144.46 403.35,144.25 403.71,143.83 404.06,143.61 404.42,144.14 404.77,144.8 405.13,145.12 405.48,145.17 405.84,145.59 406.19,145.58 406.55,144.86 406.9,145 407.26,146.02 407.61,146.43 407.97,147.14 408.32,147.05 408.68,145.72 409.03,144.8 409.39,143.6 409.74,142.86 410.1,141.98 410.45,141.27 410.81,141.16 411.16,141.48 411.51,142.04 411.87,142.33 412.22,142.3 412.58,142.47 412.93,142.28 413.29,142.29 413.64,141.94 414,141.94 414.35,142.32 414.71,142.06 415.06,142.1 415.42,142.35 415.77,141.79 416.13,141.53 416.48,140.91 416.84,140.01 417.19,140.07 417.55,139.46 417.9,138.66 418.26,138.5 418.61,138.84 418.97,138.66 419.32,137.9 419.68,138.02 420.03,137.9 420.38,137.35 420.74,137.13 421.09,136.87 421.45,136.54 421.8,136.3 422.16,136.37 422.51,136.09 422.87,136.11 423.22,135.69 423.58,135.37 423.93,135.18 424.29,134.93 424.64,134.97 425,135.05 425.35,135.02 425.71,134.93 426.06,135.39 426.42,135.69 426.77,135.66 427.13,135.82 427.48,135.87 427.84,136.56 428.19,136.92 428.55,137.22 428.9,137.32 429.25,137.51 429.61,137.57 429.96,137.76 430.32,137.58 430.67,137.82 431.03,137.94 431.38,137.98 431.74,138.18 432.09,137.98 432.45,138.25 432.8,138.37 433.16,138.54 434.22,138.88 435.29,138.94 436.35,138.99 437.42,139.11 438.48,139.22 439.54,139.44 440.61,139.66 441.67,139.71 442.74,139.81 443.8,139.68 444.87,140.21 445.93,140.5 446.99,140.64 448.06,140.57 449.12,140.81 450.19,141.21 451.25,141.25 452.32,141.42 453.38,141.35 454.45,141.35 455.51,141.55 456.57,141.7 457.64,141.19 458.7,141.11 459.77,140.99 460.83,140.75 461.9,140.75 462.96,141.14 464.03,141.21 465.09,141.06 466.15,141.43 467.22,141.34 468.28,141.21 469.35,141.01 470.41,141.16 471.48,141.26 472.54,141.16 473.6,140.72 474.67,140.81 475.73,140.61 476.8,140.76 477.86,140.65 478.93,140.59 479.99,140.31 481.06,140.28 482.12,140.56 483.18,140.09 484.25,140.34 485.31,140.28 486.38,140.37 487.44,140.85 488.51,140.71 489.57,141.14 490.63,141.23 491.7,141.44 492.76,141.64 493.83,141.22 494.89,141.71 495.96,141.51 497.02,142.09 498.09,142.39 499.15,142.56 500.21,142.23 501.28,141.68 502.34,141.73 503.41,140.92 504.47,140.71 505.54,140.76 506.6,140.15 507.67,139.86 508.73,139.76 509.79,139.53 510.86,139.63 511.92,139.17 512.99,139.24 514.05,138.89 515.12,138.99 516.18,138.85 517.24,138.81 518.31,138.59 519.37,138.57 520.44,138.63 521.5,138.39 522.57,138.19 523.63,138.48 524.7,138.39 525.76,138.19 526.82,138.52 527.89,138.18 528.95,137.88 530.02,137.94 531.08,137.63 532.15,137.6 533.21,137.44 534.28,137.45 535.34,137.09 536.4,137.07 537.47,137.21 538.53,136.87 539.6,137.06 540.66,136.98 541.73,136.87 542.79,136.83 543.85,136.84 544.92,136.45 545.98,136.59 547.05,136.64 548.11,136.52 549.18,136.26 550.24,136.11 551.31,136.28 552.37,136.03 553.43,135.53 554.5,135.54 555.56,136.05 556.63,136.48 557.69,136.33 558.76,136.38 559.82,135.72 560.89,135.26 561.95,135.3 563.01,135.53 564.08,135.35 565.14,135.24 566.21,135.24 567.27,134.7 568.34,134.72 569.4,134.33 570.46,134.65 571.53,134.63 572.59,134.57 573.66,134.58 574.72,134.17 575.79,134.14 576.85,134.32 577.92,134.37 578.98,134.35 580.04,134.41 581.11,134.26 582.17,134.45 583.24,134.58 584.3,134.32 585.37,134.29 586.43,134.24 587.5,134 588.56,134.15 589.62,134.25 590.69,134.14 591.75,134.04 592.82,133.89 593.88,133.59 594.95,133.79 596.01,134.11 597.08,133.78 598.14,133.49 599.2,133.51 600.27,133.2 601.33,133.21 602.4,133.39 603.46,133.21 604.53,133.2 605.59,133.2 606.65,133.26 607.72,133.06 608.78,132.98 609.85,133.4 610.91,133.03 611.98,132.51 613.04,132.66 614.11,132.94 615.17,132.37 616.23,132.62 617.3,132.81 618.36,132.53 619.43,132.04 620.49,132.3 621.56,132.24 622.62,132.38 623.69,132.64 624.75,132.47 625.81,132.49 626.88,132 627.94,131.85 629.01,132.39 630.07,132.2 631.14,132.36 632.2,131.94 633.26,132.13 634.33,132.11 635.39,132.38 636.46,132.2 637.52,131.57 638.59,131.66 639.65,131.15 640.72,131.23 641.78,130.96 642.84,131.03 643.91,131.22 644.97,131.39 646.04,131.55 647.1,131.48 648.17,131.65 649.23,131.68 650.3,131.78 651.36,131.51 652.42,131.52 653.49,131.42 654.55,131.55 655.62,131.58 656.68,131.4 657.75,131.05 658.81,131.18 659.87,131.09 660.94,130.69 662,130.35 663.07,130.35 664.13,130.48 665.2,130.84 666.26,130.88 667.33,131.27 668.39,131.59 669.45,131.8 670.52,133.29 671.58,135.14 672.47,136.56" fill="none" stroke="#5f6cac" stroke-width="1.2" stroke-linejoin="round"/>
</g>
<rect x="395.3" y="73.1" width="280.7" height="127" fill="none" stroke="#b9bdbd" stroke-width="1.3"/>
<line x1="389.3" x2="395.3" y1="197.2" y2="197.2" stroke="#c6caca" stroke-width="1.1"/>
<text x="384.9" y="200.7" class="tk" text-anchor="end" textLength="10.8" lengthAdjust="spacingAndGlyphs">0.0</text>
<line x1="389.3" x2="395.3" y1="172.8" y2="172.8" stroke="#c6caca" stroke-width="1.1"/>
<text x="384.9" y="176.3" class="tk" text-anchor="end" textLength="10.8" lengthAdjust="spacingAndGlyphs">0.2</text>
<line x1="389.3" x2="395.3" y1="148.4" y2="148.4" stroke="#c6caca" stroke-width="1.1"/>
<text x="384.9" y="151.9" class="tk" text-anchor="end" textLength="10.8" lengthAdjust="spacingAndGlyphs">0.4</text>
<line x1="389.3" x2="395.3" y1="124" y2="124" stroke="#c6caca" stroke-width="1.1"/>
<text x="384.9" y="127.5" class="tk" text-anchor="end" textLength="10.8" lengthAdjust="spacingAndGlyphs">0.6</text>
<line x1="389.3" x2="395.3" y1="99.6" y2="99.6" stroke="#c6caca" stroke-width="1.1"/>
<text x="384.9" y="103.1" class="tk" text-anchor="end" textLength="10.8" lengthAdjust="spacingAndGlyphs">0.8</text>
<line x1="389.3" x2="395.3" y1="75.2" y2="75.2" stroke="#c6caca" stroke-width="1.1"/>
<text x="384.9" y="78.7" class="tk" text-anchor="end" textLength="10.8" lengthAdjust="spacingAndGlyphs">1.0</text>
<line x1="397.5" x2="397.5" y1="200.1" y2="205.1" stroke="#c6caca" stroke-width="1.1"/>
<text x="397.5" y="220.7" class="tk" text-anchor="middle" textLength="4.8" lengthAdjust="spacingAndGlyphs">0</text>
<line x1="486.2" x2="486.2" y1="200.1" y2="205.1" stroke="#c6caca" stroke-width="1.1"/>
<text x="486.2" y="220.7" class="tk" text-anchor="middle" textLength="9.6" lengthAdjust="spacingAndGlyphs">10</text>
<line x1="574.9" x2="574.9" y1="200.1" y2="205.1" stroke="#c6caca" stroke-width="1.1"/>
<text x="574.9" y="220.7" class="tk" text-anchor="middle" textLength="9.6" lengthAdjust="spacingAndGlyphs">20</text>
<line x1="663.6" x2="663.6" y1="200.1" y2="205.1" stroke="#c6caca" stroke-width="1.1"/>
<text x="663.6" y="220.7" class="tk" text-anchor="middle" textLength="9.6" lengthAdjust="spacingAndGlyphs">30</text>
<text x="535.65" y="240.1" class="ax" text-anchor="middle" textLength="18.4" lengthAdjust="spacingAndGlyphs">Year</text>
<text transform="translate(362.3,136.2) rotate(-90)" class="ax" text-anchor="middle" textLength="20" lengthAdjust="spacingAndGlyphs">AUC</text>
<text x="403.9" y="188.2" class="ci" textLength="89.9" lengthAdjust="spacingAndGlyphs">C-index = 0.5060</text>
</g>
<g>
<text x="39.1" y="298.1" class="lb">(C) Waist circumference</text>
<text x="186.9" y="329.2" class="tt" text-anchor="middle" textLength="210.8" lengthAdjust="spacingAndGlyphs">Time-Dependent Area Under the Curve</text>
<text x="187.4" y="343" class="st" text-anchor="middle" textLength="92.2" lengthAdjust="spacingAndGlyphs">95% Confidence Limits</text>
<rect x="47.3" y="359.4" width="280.2" height="127" fill="#fff"/>
<line x1="47.3" x2="325.5" y1="483.5" y2="483.5" stroke="#efefef" stroke-width="1"/>
<line x1="47.3" x2="325.5" y1="459.1" y2="459.1" stroke="#efefef" stroke-width="1"/>
<line x1="47.3" x2="325.5" y1="434.7" y2="434.7" stroke="#efefef" stroke-width="1"/>
<line x1="47.3" x2="325.5" y1="410.3" y2="410.3" stroke="#efefef" stroke-width="1"/>
<line x1="47.3" x2="325.5" y1="385.9" y2="385.9" stroke="#efefef" stroke-width="1"/>
<line x1="47.3" x2="325.5" y1="361.5" y2="361.5" stroke="#efefef" stroke-width="1"/>
<line x1="47.3" x2="327.5" y1="422.5" y2="422.5" stroke="#b0b0b0" stroke-width="1.1"/>
<g class="d">
<polygon points="50.44,385.84 50.79,383.78 51.15,383.75 51.5,387.02 51.86,390.4 52.21,392.88 52.56,395.98 52.92,399.32 53.27,402.73 53.62,405.39 53.98,406.21 54.33,406.87 54.69,408.1 55.04,408.88 55.4,409.9 55.75,410.78 56.1,411.94 56.46,413.05 56.81,413.29 57.17,413.98 57.52,414.83 57.87,415.24 58.23,415.64 58.58,416.44 58.94,416.2 59.29,416.25 59.64,416.25 60,415.93 60.35,415.56 60.71,414.65 61.06,414.43 61.41,413.75 61.77,413.68 62.12,412.72 62.48,412.48 62.83,412.66 63.18,412.68 63.54,413.31 63.89,414.01 64.25,413.74 64.6,413.53 64.95,413.84 65.31,413.99 65.66,413.78 66.02,413.46 66.37,412.93 66.72,412.63 67.08,412.29 67.43,411.85 67.79,411.79 68.14,410.96 68.49,410.55 68.85,410.78 69.2,410.85 69.56,410.92 69.91,410.92 70.26,410.27 70.62,409.89 70.97,410.32 71.33,410.15 71.68,410.5 72.03,410.74 72.39,410.27 72.74,410.07 73.1,409.55 73.45,409.83 73.8,409.77 74.16,409.88 74.51,409.3 74.87,409.37 75.22,409.97 75.57,410.01 75.93,410.37 76.28,410.54 76.64,410.76 76.99,410.86 77.34,411.15 77.7,411.41 78.05,411.64 78.41,411.88 78.76,411.96 79.11,411.96 79.47,412.25 79.82,411.73 80.18,412.57 80.53,412.9 80.88,413.14 81.24,413.05 81.59,413.36 81.95,413.5 82.3,413.58 82.65,413.86 83.01,414.02 83.36,413.66 83.72,414.06 84.07,414.19 84.42,414.12 84.78,414.65 85.84,415.28 86.9,415.01 87.96,415.04 89.03,414.52 90.09,414.36 91.15,414.64 92.21,414.54 93.27,414.67 94.34,414.49 95.4,414.35 96.46,414.62 97.52,414.96 98.58,415.19 99.65,415.49 100.71,416.2 101.77,416.45 102.83,415.92 103.89,415.72 104.96,416.53 106.02,416.72 107.08,417.43 108.14,417.46 109.2,417.49 110.27,417.73 111.33,417.68 112.39,417.74 113.45,417.38 114.51,416.88 115.58,416.69 116.64,416.63 117.7,416.44 118.76,416.53 119.82,416.43 120.89,416.5 121.95,416.4 123.01,416.29 124.07,415.75 125.13,415.68 126.2,415.89 127.26,415.74 128.32,415.45 129.38,415.81 130.44,416.13 131.5,416.21 132.57,415.88 133.63,416.05 134.69,415.99 135.75,415.94 136.81,415.95 137.88,416.22 138.94,416.5 140,416.16 141.06,416.85 142.12,417.3 143.19,417.37 144.25,417.37 145.31,417.67 146.37,417.81 147.43,417.63 148.5,417.1 149.56,416.38 150.62,416.31 151.68,415.98 152.74,415.62 153.81,415.31 154.87,415.4 155.93,415.24 156.99,415.06 158.05,414.83 159.12,414.77 160.18,414.03 161.24,414.13 162.3,414.24 163.36,413.75 164.43,413.85 165.49,413.95 166.55,414.21 167.61,413.81 168.67,413.85 169.74,413.9 170.8,413.48 171.86,413.62 172.92,414.18 173.98,413.96 175.05,414.2 176.11,413.72 177.17,413.61 178.23,413.26 179.29,413.66 180.36,413.6 181.42,413.23 182.48,412.94 183.54,412.69 184.6,412.39 185.67,412.53 186.73,413.02 187.79,413.22 188.85,413.27 189.91,413.1 190.98,412.89 192.04,412.73 193.1,412.85 194.16,412.47 195.22,412.42 196.29,412 197.35,411.84 198.41,411.1 199.47,411.44 200.53,411.41 201.6,411.42 202.66,411.59 203.72,411.27 204.78,411.13 205.84,410.96 206.91,410.83 207.97,410.86 209.03,411.05 210.09,410.71 211.15,410.78 212.22,410.12 213.28,410.2 214.34,410.17 215.4,409.91 216.46,409.69 217.53,409.33 218.59,409.2 219.65,409.61 220.71,409.43 221.77,409.26 222.84,409.19 223.9,409.41 224.96,408.98 226.02,409.08 227.08,409.17 228.15,409.39 229.21,409.02 230.27,408.88 231.33,408.92 232.39,408.4 233.46,408.47 234.52,408.49 235.58,407.93 236.64,408.63 237.7,409.03 238.77,408.72 239.83,408.51 240.89,408.27 241.95,408.86 243.01,408.73 244.08,408.88 245.14,408.83 246.2,408.62 247.26,409.09 248.33,408.89 249.39,408.59 250.45,408.9 251.51,408.32 252.57,408.5 253.64,408.28 254.7,408.22 255.76,407.55 256.82,407.68 257.88,407.29 258.95,407.23 260.01,407.68 261.07,407.7 262.13,407.6 263.19,407.56 264.26,407.32 265.32,407.1 266.38,406.78 267.44,406.83 268.5,406.77 269.57,406.79 270.63,406.78 271.69,406.78 272.75,406.85 273.81,406.41 274.88,406.65 275.94,406.58 277,406.48 278.06,406.16 279.12,406.58 280.19,406.34 281.25,406.32 282.31,406.51 283.37,406.2 284.43,406.38 285.5,406.33 286.56,406.33 287.62,406.41 288.68,406.26 289.74,406.8 290.81,406.47 291.87,406.13 292.93,406.07 293.99,406.17 295.05,405.6 296.12,405.79 297.18,405.61 298.24,405.56 299.3,405.56 300.36,405.66 301.43,405.26 302.49,405.29 303.55,405.49 304.61,405.81 305.67,406.12 306.74,406.09 307.8,405.33 308.86,404.93 309.92,405.03 310.98,404.56 312.05,404.39 313.11,403.87 314.17,403.66 315.23,403.62 316.29,403.63 317.36,403.25 318.42,402.68 319.48,402.29 320.54,401.44 321.6,400.63 322.67,400.65 323.73,401.9 324.17,402.15 324.17,421.89 323.73,420.27 322.67,416.72 321.6,412.98 320.54,410.12 319.48,410.23 318.42,410.06 317.36,409.58 316.29,409.65 315.23,409.4 314.17,409.26 313.11,409.67 312.05,409.27 310.98,409.81 309.92,410.23 308.86,410.89 307.8,410.85 306.74,411.16 305.67,411.14 304.61,411.5 303.55,411.43 302.49,411.5 301.43,411.63 300.36,411.08 299.3,411.39 298.24,411.33 297.18,411.44 296.12,411.19 295.05,411.4 293.99,410.91 292.93,410.97 291.87,411.28 290.81,411.17 289.74,411.17 288.68,410.75 287.62,410.72 286.56,411.08 285.5,411.18 284.43,411.3 283.37,411.04 282.31,410.78 281.25,411.3 280.19,410.73 279.12,410.58 278.06,411.32 277,410.93 275.94,410.8 274.88,411.14 273.81,411.2 272.75,411.58 271.69,411.01 270.63,411.78 269.57,411.77 268.5,412.08 267.44,411.8 266.38,411.43 265.32,411.99 264.26,411.79 263.19,412.41 262.13,412.3 261.07,412.81 260.01,412.51 258.95,412.75 257.88,412.72 256.82,412.9 255.76,412.64 254.7,412.3 253.64,412.56 252.57,412.4 251.51,412.59 250.45,412.65 249.39,412.73 248.33,412.95 247.26,413.12 246.2,413.02 245.14,413.13 244.08,413.4 243.01,413.53 241.95,413.9 240.89,413.74 239.83,413.63 238.77,413.57 237.7,413.72 236.64,413.35 235.58,413.66 234.52,413.45 233.46,413.91 232.39,413.77 231.33,414 230.27,413.92 229.21,414.03 228.15,414.04 227.08,413.89 226.02,413.76 224.96,413.55 223.9,413.43 222.84,413.46 221.77,413.4 220.71,413.91 219.65,414.02 218.59,414.5 217.53,414.46 216.46,414.67 215.4,414.4 214.34,414.82 213.28,414.67 212.22,415.21 211.15,415.24 210.09,415.29 209.03,415.62 207.97,415.72 206.91,415.49 205.84,415.15 204.78,415.57 203.72,415.18 202.66,415.67 201.6,415.97 200.53,416.06 199.47,416.14 198.41,416.55 197.35,416.63 196.29,416.85 195.22,416.97 194.16,416.87 193.1,416.95 192.04,416.96 190.98,417.27 189.91,417.51 188.85,417.76 187.79,417.79 186.73,417.85 185.67,417.91 184.6,418.3 183.54,417.81 182.48,418.29 181.42,418.26 180.36,418.18 179.29,418.06 178.23,418.15 177.17,418.04 176.11,418.73 175.05,418.84 173.98,418.92 172.92,418.78 171.86,418.73 170.8,418.81 169.74,419.19 168.67,419.32 167.61,419.16 166.55,419.4 165.49,419.88 164.43,419.84 163.36,419.53 162.3,419.66 161.24,419.51 160.18,419.3 159.12,419.63 158.05,419.52 156.99,419.29 155.93,419.61 154.87,420.06 153.81,419.98 152.74,420.51 151.68,420.41 150.62,420.77 149.56,421.31 148.5,421.88 147.43,421.88 146.37,422.15 145.31,422.55 144.25,422.41 143.19,422.25 142.12,422.07 141.06,421.79 140,421.48 138.94,421.7 137.88,421.69 136.81,421.57 135.75,421.51 134.69,421.71 133.63,421.39 132.57,421.37 131.5,421.27 130.44,421.3 129.38,420.96 128.32,421.5 127.26,421.57 126.2,421.61 125.13,421.45 124.07,421.61 123.01,422.09 121.95,422.37 120.89,422.28 119.82,422.48 118.76,422.35 117.7,422.61 116.64,423 115.58,423.47 114.51,423.34 113.45,423.23 112.39,423.45 111.33,423.68 110.27,423.65 109.2,424.04 108.14,423.57 107.08,423.1 106.02,423.05 104.96,423.11 103.89,422.65 102.83,422.71 101.77,422.93 100.71,422.91 99.65,423.33 98.58,422.81 97.52,423.02 96.46,423.09 95.4,423.11 94.34,423.05 93.27,423.01 92.21,423.05 91.15,422.85 90.09,422.47 89.03,422.2 87.96,422.31 86.9,422.57 85.84,422.27 84.78,421.96 84.42,422.01 84.07,422.24 83.72,421.86 83.36,421.77 83.01,422.18 82.65,422.29 82.3,422.18 81.95,421.73 81.59,421.94 81.24,422.13 80.88,422.07 80.53,421.71 80.18,421.53 79.82,421.05 79.47,421.1 79.11,420.86 78.76,421 78.41,420.67 78.05,420.33 77.7,420 77.34,420.73 76.99,420.21 76.64,419.61 76.28,419.72 75.93,420.02 75.57,419.64 75.22,419.64 74.87,419.98 74.51,420.61 74.16,420.11 73.8,420.32 73.45,420.92 73.1,421.1 72.74,421.78 72.39,422.77 72.03,422.64 71.68,422.6 71.33,422.06 70.97,422.35 70.62,422.73 70.26,422.43 69.91,422.42 69.56,423.13 69.2,422.72 68.85,423.01 68.49,422.67 68.14,422.85 67.79,423.33 67.43,424.85 67.08,425.75 66.72,426.32 66.37,427.21 66.02,428.25 65.66,427.62 65.31,427.74 64.95,428.02 64.6,427.97 64.25,427.6 63.89,427.5 63.54,427.25 63.18,426.84 62.83,426.87 62.48,426.6 62.12,426.63 61.77,426.34 61.41,426.16 61.06,427.7 60.71,428.04 60.35,429.11 60,429.99 59.64,431.25 59.29,431.6 58.94,432.69 58.58,433.74 58.23,433.37 57.87,434.16 57.52,434.09 57.17,434.58 56.81,434.79 56.46,434.62 56.1,434.21 55.75,434.19 55.4,434.27 55.04,434.62 54.69,434.8 54.33,435.1 53.98,435.31 53.62,436.13 53.27,437.43 52.92,438.81 52.56,438.96 52.21,439.51 51.86,439.64 51.5,440.98 51.15,431.57 50.79,413.91 50.44,395.47" fill="#a3abd6" fill-opacity="0.8"/>
<polyline points="50.44,390.08 50.79,395.39 51.15,400.65 51.5,406.21 51.86,411.42 52.21,414.71 52.56,415.92 52.92,416.95 53.27,417.53 53.62,418.15 53.98,418.88 54.33,419.61 54.69,420.52 55.04,421.15 55.4,421.42 55.75,421.8 56.1,422.68 56.46,422.74 56.81,422.9 57.17,423.46 57.52,423.69 57.87,424.5 58.23,424.89 58.58,425.25 58.94,425.16 59.29,424.99 59.64,424.47 60,424.52 60.35,423.54 60.71,422.99 61.06,421.77 61.41,420.9 61.77,419.78 62.12,418.88 62.48,419.36 62.83,419.45 63.18,419.37 63.54,419.89 63.89,420.38 64.25,420.74 64.6,421.14 64.95,420.94 65.31,420.69 65.66,420.34 66.02,419.97 66.37,419.32 66.72,418.43 67.08,418.13 67.43,418 67.79,417.82 68.14,417.46 68.49,416.99 68.85,417.05 69.2,417.3 69.56,417.09 69.91,416.5 70.26,416.19 70.62,416.02 70.97,415.62 71.33,415.59 71.68,415.03 72.03,415.13 72.39,415.04 72.74,415.1 73.1,415.23 73.45,414.94 73.8,414.89 74.16,414.48 74.51,414.52 74.87,414.12 75.22,414.17 75.57,414.56 75.93,414.48 76.28,415.01 76.64,415.22 76.99,414.97 77.34,415.13 77.7,415.38 78.05,415.63 78.41,415.95 78.76,415.87 79.11,415.87 79.47,416.04 79.82,416.57 80.18,417.09 80.53,417.13 80.88,417.07 81.24,417.08 81.59,417.26 81.95,417.45 82.3,417.34 82.65,417.68 83.01,417.63 83.36,417.72 83.72,417.79 84.07,417.97 84.42,417.76 84.78,417.59 85.84,417.83 86.9,418.83 87.96,419.26 89.03,418.37 90.09,418.36 91.15,418.5 92.21,418.36 93.27,418.9 94.34,418.64 95.4,418.72 96.46,419.22 97.52,419.51 98.58,419.91 99.65,419.44 100.71,419.44 101.77,419.21 102.83,419.46 103.89,419.58 104.96,419.39 106.02,419.43 107.08,419.57 108.14,419.83 109.2,420.06 110.27,420.28 111.33,419.7 112.39,419.83 113.45,420 114.51,419.61 115.58,419.25 116.64,419.42 117.7,419.08 118.76,419.13 119.82,419.22 120.89,419.18 121.95,418.72 123.01,418.72 124.07,418.78 125.13,418.76 126.2,419.1 127.26,419.13 128.32,418.84 129.38,418.76 130.44,418.57 131.5,418.87 132.57,418.55 133.63,418.56 134.69,418.73 135.75,418.62 136.81,418.2 137.88,418.64 138.94,418.75 140,418.9 141.06,419.14 142.12,419.43 143.19,419.36 144.25,419.22 145.31,419.21 146.37,419.43 147.43,419.72 148.5,419.54 149.56,419.25 150.62,418.62 151.68,418.39 152.74,418.14 153.81,417.83 154.87,417.52 155.93,417.05 156.99,416.93 158.05,417.02 159.12,416.75 160.18,416.86 161.24,416.83 162.3,416.65 163.36,416.87 164.43,416.54 165.49,416.71 166.55,416.53 167.61,415.93 168.67,416.27 169.74,416.37 170.8,416.54 171.86,416.55 172.92,416.41 173.98,416.4 175.05,416.02 176.11,416.17 177.17,416.15 178.23,416.04 179.29,415.86 180.36,415.48 181.42,415.87 182.48,415.71 183.54,415.85 184.6,415.91 185.67,415.74 186.73,415.66 187.79,415.39 188.85,415.58 189.91,415.21 190.98,415.43 192.04,415.35 193.1,415.29 194.16,415.09 195.22,415.14 196.29,415.07 197.35,414.84 198.41,414.74 199.47,414.9 200.53,414.08 201.6,414.24 202.66,413.77 203.72,413.58 204.78,413.61 205.84,413.34 206.91,413.28 207.97,413.15 209.03,412.66 210.09,412.53 211.15,412.36 212.22,412.59 213.28,412.32 214.34,412.67 215.4,412.23 216.46,411.87 217.53,411.92 218.59,411.85 219.65,411.76 220.71,411.97 221.77,411.89 222.84,411.24 223.9,411.44 224.96,411.18 226.02,411.38 227.08,411.82 228.15,411.51 229.21,411.32 230.27,411.07 231.33,411.22 232.39,411.34 233.46,411.06 234.52,411.38 235.58,411.42 236.64,411.24 237.7,410.95 238.77,410.69 239.83,410.73 240.89,410.83 241.95,411.02 243.01,410.92 244.08,410.55 245.14,410.72 246.2,410.91 247.26,411 248.33,411.05 249.39,410.54 250.45,410.46 251.51,410.33 252.57,410.19 253.64,410.15 254.7,409.89 255.76,410.47 256.82,410.04 257.88,409.82 258.95,409.9 260.01,409.97 261.07,410.02 262.13,409.97 263.19,409.93 264.26,409.91 265.32,409.85 266.38,409.48 267.44,409.28 268.5,409.08 269.57,409.35 270.63,409.06 271.69,408.89 272.75,408.63 273.81,408.62 274.88,408.85 275.94,408.59 277,408.61 278.06,408.69 279.12,409.02 280.19,409 281.25,409.04 282.31,408.91 283.37,408.93 284.43,408.63 285.5,408.7 286.56,408.56 287.62,408.38 288.68,408.49 289.74,408.31 290.81,408.22 291.87,408.25 292.93,408.07 293.99,408.54 295.05,408.37 296.12,408.45 297.18,408.3 298.24,408.26 299.3,408.82 300.36,409.13 301.43,408.88 302.49,408.91 303.55,408.56 304.61,408.74 305.67,408.72 306.74,408.69 307.8,408.62 308.86,408.66 309.92,408.65 310.98,408.4 312.05,408.12 313.11,407.61 314.17,407.52 315.23,407.01 316.29,406.69 317.36,406.21 318.42,406.21 319.48,405.72 320.54,405.77 321.6,406.03 322.67,408.65 323.73,410.42 324.17,411.36" fill="none" stroke="#5f6cac" stroke-width="1.2" stroke-linejoin="round"/>
</g>
<rect x="47.3" y="359.4" width="280.2" height="127" fill="none" stroke="#b9bdbd" stroke-width="1.3"/>
<line x1="41.3" x2="47.3" y1="483.5" y2="483.5" stroke="#c6caca" stroke-width="1.1"/>
<text x="36.9" y="487" class="tk" text-anchor="end" textLength="10.8" lengthAdjust="spacingAndGlyphs">0.0</text>
<line x1="41.3" x2="47.3" y1="459.1" y2="459.1" stroke="#c6caca" stroke-width="1.1"/>
<text x="36.9" y="462.6" class="tk" text-anchor="end" textLength="10.8" lengthAdjust="spacingAndGlyphs">0.2</text>
<line x1="41.3" x2="47.3" y1="434.7" y2="434.7" stroke="#c6caca" stroke-width="1.1"/>
<text x="36.9" y="438.2" class="tk" text-anchor="end" textLength="10.8" lengthAdjust="spacingAndGlyphs">0.4</text>
<line x1="41.3" x2="47.3" y1="410.3" y2="410.3" stroke="#c6caca" stroke-width="1.1"/>
<text x="36.9" y="413.8" class="tk" text-anchor="end" textLength="10.8" lengthAdjust="spacingAndGlyphs">0.6</text>
<line x1="41.3" x2="47.3" y1="385.9" y2="385.9" stroke="#c6caca" stroke-width="1.1"/>
<text x="36.9" y="389.4" class="tk" text-anchor="end" textLength="10.8" lengthAdjust="spacingAndGlyphs">0.8</text>
<line x1="41.3" x2="47.3" y1="361.5" y2="361.5" stroke="#c6caca" stroke-width="1.1"/>
<text x="36.9" y="365" class="tk" text-anchor="end" textLength="10.8" lengthAdjust="spacingAndGlyphs">1.0</text>
<line x1="49.2" x2="49.2" y1="486.4" y2="491.4" stroke="#c6caca" stroke-width="1.1"/>
<text x="49.2" y="507" class="tk" text-anchor="middle" textLength="4.8" lengthAdjust="spacingAndGlyphs">0</text>
<line x1="137.7" x2="137.7" y1="486.4" y2="491.4" stroke="#c6caca" stroke-width="1.1"/>
<text x="137.7" y="507" class="tk" text-anchor="middle" textLength="9.6" lengthAdjust="spacingAndGlyphs">10</text>
<line x1="226.2" x2="226.2" y1="486.4" y2="491.4" stroke="#c6caca" stroke-width="1.1"/>
<text x="226.2" y="507" class="tk" text-anchor="middle" textLength="9.6" lengthAdjust="spacingAndGlyphs">20</text>
<line x1="314.7" x2="314.7" y1="486.4" y2="491.4" stroke="#c6caca" stroke-width="1.1"/>
<text x="314.7" y="507" class="tk" text-anchor="middle" textLength="9.6" lengthAdjust="spacingAndGlyphs">30</text>
<text x="187.4" y="526.4" class="ax" text-anchor="middle" textLength="18.4" lengthAdjust="spacingAndGlyphs">Year</text>
<text transform="translate(14.2,422.5) rotate(-90)" class="ax" text-anchor="middle" textLength="20" lengthAdjust="spacingAndGlyphs">AUC</text>
<text x="54.5" y="474.5" class="ci" textLength="85.9" lengthAdjust="spacingAndGlyphs">C-index =0.5591</text>
</g>
<g>
<text x="386.2" y="298.1" class="lb">(D) Waist-to-BMI ratio</text>
<text x="535.15" y="330.1" class="tt" text-anchor="middle" textLength="210.8" lengthAdjust="spacingAndGlyphs">Time-Dependent Area Under the Curve</text>
<text x="535.65" y="343.9" class="st" text-anchor="middle" textLength="92.2" lengthAdjust="spacingAndGlyphs">95% Confidence Limits</text>
<rect x="395.3" y="360.3" width="280.7" height="127" fill="#fff"/>
<line x1="395.3" x2="674" y1="484.4" y2="484.4" stroke="#efefef" stroke-width="1"/>
<line x1="395.3" x2="674" y1="460" y2="460" stroke="#efefef" stroke-width="1"/>
<line x1="395.3" x2="674" y1="435.6" y2="435.6" stroke="#efefef" stroke-width="1"/>
<line x1="395.3" x2="674" y1="411.2" y2="411.2" stroke="#efefef" stroke-width="1"/>
<line x1="395.3" x2="674" y1="386.8" y2="386.8" stroke="#efefef" stroke-width="1"/>
<line x1="395.3" x2="674" y1="362.4" y2="362.4" stroke="#efefef" stroke-width="1"/>
<line x1="395.3" x2="676" y1="423.4" y2="423.4" stroke="#b0b0b0" stroke-width="1.1"/>
<g class="d">
<polygon points="398.39,448.97 398.74,420.56 399.1,398.8 399.45,398.02 399.81,397 400.16,396.37 400.52,396.15 400.87,395.18 401.23,394.6 401.58,393.12 401.94,391.63 402.29,390.43 402.64,390.14 403,391.15 403.35,392.48 403.71,394.03 404.06,396.12 404.42,397.69 404.77,398.63 405.13,398.41 405.48,397.8 405.84,398.12 406.19,398.55 406.55,397.53 406.9,397.3 407.26,397.18 407.61,397.25 407.97,397.27 408.32,397.75 408.68,398.55 409.03,399.01 409.39,398.91 409.74,399.59 410.1,399.8 410.45,399.89 410.81,400.42 411.16,400.61 411.51,400.8 411.87,400.91 412.22,400.82 412.58,400.49 412.93,400.5 413.29,400.3 413.64,400.66 414,400.26 414.35,400.5 414.71,400.6 415.06,400.76 415.42,401.36 415.77,401.57 416.13,401.82 416.48,401.76 416.84,401.79 417.19,402.23 417.55,402.5 417.9,403.32 418.26,403.49 418.61,404.19 418.97,404.13 419.32,404.49 419.68,404.23 420.03,404.59 420.38,404.95 420.74,405.15 421.09,405.23 421.45,405.1 421.8,405.18 422.16,405.35 422.51,405.34 422.87,404.94 423.22,405.14 423.58,405.41 423.93,405.45 424.29,405.86 424.64,406.64 425,406.39 425.35,407.22 425.71,407.61 426.06,407.21 426.42,408.14 426.77,407.53 427.13,407.34 427.48,407.13 427.84,407.19 428.19,407.19 428.55,406.87 428.9,406.81 429.25,406.67 429.61,406.86 429.96,406.97 430.32,406.72 430.67,406.56 431.03,406.15 431.38,405.62 431.74,405.48 432.09,405.41 432.45,405.6 432.8,405.56 433.16,405.24 434.22,405.41 435.29,405.3 436.35,405.57 437.42,405.19 438.48,404.87 439.54,405.09 440.61,405.1 441.67,405 442.74,404.66 443.8,404.79 444.87,405.07 445.93,404.94 446.99,404.77 448.06,404.85 449.12,404.72 450.19,404.76 451.25,404.8 452.32,404.47 453.38,404.45 454.45,404.09 455.51,403.94 456.57,404.33 457.64,404.54 458.7,404.38 459.77,404.21 460.83,403.97 461.9,403.9 462.96,404.03 464.03,404.08 465.09,404.61 466.15,404.72 467.22,404.7 468.28,404.38 469.35,404.66 470.41,404.61 471.48,404.14 472.54,404.52 473.6,404.82 474.67,404.92 475.73,405.09 476.8,405.48 477.86,405.3 478.93,405.45 479.99,405.41 481.06,405.54 482.12,405.34 483.18,404.9 484.25,404.98 485.31,405.2 486.38,404.84 487.44,405.24 488.51,404.55 489.57,404.45 490.63,404.74 491.7,404.31 492.76,404.59 493.83,404.73 494.89,404.5 495.96,404.35 497.02,404.58 498.09,404.95 499.15,404.46 500.21,404.38 501.28,403.95 502.34,404.23 503.41,404.71 504.47,405.01 505.54,405.2 506.6,404.86 507.67,404.56 508.73,405.49 509.79,405.09 510.86,405.03 511.92,405.42 512.99,405.32 514.05,405.66 515.12,406.5 516.18,406.41 517.24,406.47 518.31,406.41 519.37,406.41 520.44,406.34 521.5,406.36 522.57,406.52 523.63,407.01 524.7,407.5 525.76,407.04 526.82,406.5 527.89,406.45 528.95,406.57 530.02,406.87 531.08,406.89 532.15,406.74 533.21,406.49 534.28,406.55 535.34,406.92 536.4,406.45 537.47,407.1 538.53,407.14 539.6,407.16 540.66,406.96 541.73,406.77 542.79,407.15 543.85,406.68 544.92,406.54 545.98,406.81 547.05,406.59 548.11,406.89 549.18,406.84 550.24,406.45 551.31,406.77 552.37,406.36 553.43,406.17 554.5,406.14 555.56,406.64 556.63,407.07 557.69,407.33 558.76,407.54 559.82,407.78 560.89,407.51 561.95,407.45 563.01,407.68 564.08,407.74 565.14,407.92 566.21,408.16 567.27,407.99 568.34,408.52 569.4,408.2 570.46,408.26 571.53,408.46 572.59,408.42 573.66,408.26 574.72,408.27 575.79,408.28 576.85,408.31 577.92,408.7 578.98,409.02 580.04,408.61 581.11,408.61 582.17,408.89 583.24,408.57 584.3,408.89 585.37,408.38 586.43,408.44 587.5,408.15 588.56,408.38 589.62,408.77 590.69,408.58 591.75,408.54 592.82,409.03 593.88,408.81 594.95,408.63 596.01,408.91 597.08,408.98 598.14,409.02 599.2,408.59 600.27,408.69 601.33,408.3 602.4,408.46 603.46,408.39 604.53,408.15 605.59,408.06 606.65,407.8 607.72,407.8 608.78,407.99 609.85,407.84 610.91,408 611.98,407.91 613.04,407.49 614.11,408.3 615.17,408.04 616.23,408 617.3,408.02 618.36,408.45 619.43,408.24 620.49,408.84 621.56,408.78 622.62,408.15 623.69,408.29 624.75,408.2 625.81,408.46 626.88,408.77 627.94,408.84 629.01,409.35 630.07,409.42 631.14,409.16 632.2,409.1 633.26,409.46 634.33,409.82 635.39,410.28 636.46,410.43 637.52,410.29 638.59,410.36 639.65,410.49 640.72,410.59 641.78,410.67 642.84,410.59 643.91,410.59 644.97,411.03 646.04,410.92 647.1,410.91 648.17,410.76 649.23,410.53 650.3,410.46 651.36,410.63 652.42,410.27 653.49,410 654.55,409.81 655.62,410.07 656.68,409.49 657.75,409.36 658.81,409.14 659.87,408.69 660.94,408.67 662,408.07 663.07,407.17 664.13,406.67 665.2,406.5 666.26,405.51 667.33,404.35 668.39,403.14 669.45,402.07 670.52,400.93 671.58,401.86 672.65,402.88 672.74,403.17 672.74,416.07 672.65,416.21 671.58,414.82 670.52,413.58 669.45,412.38 668.39,412.56 667.33,413.42 666.26,412.91 665.2,413.44 664.13,413.47 663.07,414.04 662,414.31 660.94,414.79 659.87,415.25 658.81,415.1 657.75,415.16 656.68,415 655.62,414.64 654.55,415.22 653.49,415.48 652.42,415.04 651.36,414.99 650.3,415.43 649.23,415.7 648.17,415.62 647.1,415.67 646.04,415.16 644.97,415.57 643.91,415.63 642.84,415.49 641.78,415.12 640.72,415.35 639.65,415.36 638.59,415.12 637.52,414.79 636.46,414.25 635.39,413.99 634.33,413.79 633.26,414.5 632.2,414.14 631.14,413.96 630.07,413.45 629.01,413.08 627.94,412.86 626.88,413.12 625.81,413.31 624.75,413.35 623.69,412.62 622.62,412.64 621.56,412.1 620.49,411.98 619.43,411.72 618.36,412.18 617.3,412.17 616.23,412.34 615.17,412.03 614.11,412.65 613.04,412.35 611.98,412.04 610.91,411.96 609.85,412.15 608.78,412.47 607.72,412.07 606.65,412.26 605.59,412.18 604.53,412 603.46,412.23 602.4,412.52 601.33,412.57 600.27,412.75 599.2,412.64 598.14,412.77 597.08,412.99 596.01,412.82 594.95,412.68 593.88,413.02 592.82,413.36 591.75,412.77 590.69,412.7 589.62,412.45 588.56,412.73 587.5,412.81 586.43,413.15 585.37,412.98 584.3,412.97 583.24,412.95 582.17,412.87 581.11,413.07 580.04,413.05 578.98,413.08 577.92,412.73 576.85,412.77 575.79,412.71 574.72,412.79 573.66,412.56 572.59,412.4 571.53,412.92 570.46,412.76 569.4,412.89 568.34,412.49 567.27,412.14 566.21,411.93 565.14,412.16 564.08,411.96 563.01,411.87 561.95,411.78 560.89,411.9 559.82,411.65 558.76,411.35 557.69,411.18 556.63,411.04 555.56,411.11 554.5,411.22 553.43,411.48 552.37,410.75 551.31,411.14 550.24,411.29 549.18,411.36 548.11,410.94 547.05,410.91 545.98,410.75 544.92,410.96 543.85,411.45 542.79,411.05 541.73,410.98 540.66,411.17 539.6,411.29 538.53,411 537.47,410.47 536.4,410.95 535.34,410.7 534.28,411.23 533.21,411.16 532.15,411.59 531.08,411.14 530.02,411.29 528.95,410.89 527.89,411.17 526.82,410.42 525.76,410.61 524.7,410.92 523.63,410.87 522.57,410.78 521.5,411.1 520.44,410.77 519.37,410.57 518.31,410.21 517.24,410.47 516.18,410.42 515.12,410.19 514.05,410.3 512.99,410.16 511.92,409.85 510.86,409.78 509.79,409.83 508.73,409.77 507.67,409.77 506.6,409.95 505.54,409.85 504.47,409.61 503.41,409.62 502.34,409.19 501.28,408.87 500.21,408.56 499.15,408.17 498.09,408.62 497.02,408.64 495.96,409.02 494.89,409.1 493.83,409.44 492.76,409.44 491.7,409.76 490.63,409.64 489.57,409.53 488.51,410.19 487.44,410.21 486.38,410.42 485.31,410.54 484.25,411.03 483.18,410.57 482.12,410.58 481.06,410.79 479.99,410.7 478.93,410.44 477.86,410.22 476.8,410.53 475.73,410.68 474.67,410.66 473.6,410.61 472.54,410.57 471.48,411 470.41,410.74 469.35,410.92 468.28,411.12 467.22,411.25 466.15,411.21 465.09,411.12 464.03,411.59 462.96,411.34 461.9,411.45 460.83,410.95 459.77,411.16 458.7,411.22 457.64,411.42 456.57,411.12 455.51,411.37 454.45,411.01 453.38,411.2 452.32,411.77 451.25,411.17 450.19,411.23 449.12,411.3 448.06,411.46 446.99,411.5 445.93,411.58 444.87,412.11 443.8,412.7 442.74,412.57 441.67,413.37 440.61,413.2 439.54,413.06 438.48,413.28 437.42,413.29 436.35,413.58 435.29,413.88 434.22,414.23 433.16,413.87 432.8,414.24 432.45,413.94 432.09,414.07 431.74,414.24 431.38,413.98 431.03,414.14 430.67,413.82 430.32,414.25 429.96,414.45 429.61,414.83 429.25,415.09 428.9,415.6 428.55,415.85 428.19,416.36 427.84,416.07 427.48,416.36 427.13,416.76 426.77,416.68 426.42,416.9 426.06,417.5 425.71,417.37 425.35,417.85 425,417.99 424.64,417.73 424.29,417.22 423.93,417.2 423.58,417.12 423.22,417.59 422.87,417.49 422.51,417.59 422.16,416.84 421.8,417.79 421.45,417.22 421.09,417.33 420.74,417.37 420.38,417.25 420.03,417.37 419.68,416.98 419.32,417.23 418.97,417.24 418.61,417.01 418.26,416.4 417.9,415.93 417.55,416.18 417.19,416.26 416.84,415.74 416.48,415.18 416.13,414.81 415.77,415.07 415.42,415.14 415.06,414.97 414.71,415 414.35,414.58 414,414.1 413.64,414.18 413.29,414.14 412.93,414.04 412.58,413.88 412.22,413.59 411.87,413.7 411.51,413.45 411.16,413.4 410.81,413.36 410.45,413.66 410.1,413.84 409.74,414.11 409.39,413.99 409.03,413.87 408.68,413.62 408.32,413.53 407.97,414.17 407.61,414.73 407.26,414.59 406.9,414.94 406.55,415.48 406.19,415.94 405.84,416.47 405.48,416.97 405.13,417.94 404.77,418.17 404.42,418.45 404.06,419.31 403.71,419.46 403.35,419.18 403,420.77 402.64,424.81 402.29,427.7 401.94,430.73 401.58,433.6 401.23,437.67 400.87,440.94 400.52,442.3 400.16,445.96 399.81,448.78 399.45,451.3 399.1,453.97 398.74,456.06 398.39,457.73" fill="#a3abd6" fill-opacity="0.8"/>
<polyline points="398.39,453.81 398.74,447.87 399.1,441.23 399.45,435.96 399.81,430.67 400.16,425.61 400.52,421.01 400.87,416.77 401.23,414.53 401.58,412.62 401.94,410.27 402.29,408.25 402.64,406.52 403,405.09 403.35,405.57 403.71,406.19 404.06,406.75 404.42,407.44 404.77,408.05 405.13,408.53 405.48,408.28 405.84,407.97 406.19,407.45 406.55,406.85 406.9,406.83 407.26,406.32 407.61,406.33 407.97,405.9 408.32,405.38 408.68,406.01 409.03,406.37 409.39,406.55 409.74,406.73 410.1,406.84 410.45,406.84 410.81,407.03 411.16,406.86 411.51,407.15 411.87,407.29 412.22,407.77 412.58,407.58 412.93,407.62 413.29,407.9 413.64,407.97 414,408 414.35,407.75 414.71,407.21 415.06,406.72 415.42,406.39 415.77,406.88 416.13,407.06 416.48,407.81 416.84,407.79 417.19,408.03 417.55,408.61 417.9,409.4 418.26,409.6 418.61,410.06 418.97,410.66 419.32,410.78 419.68,410.56 420.03,410.25 420.38,410.57 420.74,410.45 421.09,410.46 421.45,410.72 421.8,410.97 422.16,411.19 422.51,410.76 422.87,410.87 423.22,410.82 423.58,411.01 423.93,411.65 424.29,412.08 424.64,412.34 425,412.8 425.35,413.33 425.71,412.87 426.06,412.88 426.42,412.95 426.77,412.4 427.13,412.07 427.48,411.69 427.84,412.06 428.19,411.76 428.55,411.23 428.9,411.17 429.25,410.96 429.61,410.97 429.96,410.62 430.32,410.35 430.67,410.32 431.03,410.22 431.38,409.91 431.74,409.61 432.09,409.58 432.45,409.6 432.8,409.32 433.16,409.69 434.22,409.36 435.29,409.58 436.35,409.65 437.42,409.92 438.48,409.6 439.54,409.21 440.61,409.21 441.67,409.29 442.74,409.6 443.8,409.24 444.87,408.6 445.93,408.38 446.99,408.35 448.06,408.32 449.12,408.06 450.19,407.95 451.25,407.99 452.32,407.69 453.38,407.76 454.45,408.16 455.51,408.09 456.57,408.19 457.64,408.11 458.7,407.88 459.77,408.31 460.83,407.95 461.9,407.95 462.96,407.77 464.03,408.2 465.09,407.77 466.15,407.6 467.22,407.87 468.28,407.83 469.35,407.99 470.41,407.6 471.48,407.55 472.54,407.37 473.6,407.33 474.67,407.2 475.73,407.51 476.8,407.58 477.86,407.85 478.93,407.77 479.99,408.24 481.06,407.8 482.12,407.62 483.18,407.46 484.25,407.1 485.31,407.26 486.38,407.42 487.44,407.43 488.51,407.71 489.57,407.05 490.63,407.35 491.7,407.52 492.76,407.37 493.83,406.74 494.89,406.54 495.96,406.64 497.02,406.38 498.09,406.31 499.15,406.36 500.21,406.39 501.28,406.76 502.34,406.88 503.41,406.6 504.47,406.7 505.54,406.98 506.6,407.19 507.67,407.19 508.73,407.09 509.79,407.41 510.86,407.59 511.92,407.76 512.99,407.98 514.05,408.1 515.12,408.37 516.18,408.15 517.24,408.43 518.31,408.85 519.37,408.63 520.44,409.01 521.5,408.94 522.57,409.23 523.63,409.1 524.7,408.72 525.76,408.86 526.82,409.04 527.89,408.59 528.95,408.89 530.02,408.86 531.08,409.23 532.15,409.34 533.21,409.43 534.28,408.83 535.34,409 536.4,409.11 537.47,409.14 538.53,408.93 539.6,408.53 540.66,408.59 541.73,408.57 542.79,408.2 543.85,408.39 544.92,408.65 545.98,408.63 547.05,409.13 548.11,409.04 549.18,409.13 550.24,408.79 551.31,408.54 552.37,408.84 553.43,408.93 554.5,408.85 555.56,408.81 556.63,408.71 557.69,408.82 558.76,408.82 559.82,409.05 560.89,409.23 561.95,409.48 563.01,409.62 564.08,409.78 565.14,409.58 566.21,409.92 567.27,409.95 568.34,409.64 569.4,409.9 570.46,410.04 571.53,410.49 572.59,410.78 573.66,410.82 574.72,411 575.79,410.59 576.85,410.31 577.92,409.97 578.98,410.02 580.04,410.77 581.11,410.39 582.17,410.33 583.24,410.36 584.3,410.7 585.37,410.66 586.43,411.27 587.5,411.24 588.56,410.7 589.62,410.41 590.69,410.22 591.75,410.42 592.82,410.66 593.88,411.07 594.95,410.96 596.01,410.82 597.08,410.59 598.14,410.13 599.2,410.46 600.27,410.46 601.33,410.36 602.4,410.39 603.46,410.25 604.53,409.97 605.59,410.4 606.65,410.38 607.72,410 608.78,410.09 609.85,409.43 610.91,409.5 611.98,409.78 613.04,410.01 614.11,409.83 615.17,410.25 616.23,409.96 617.3,409.92 618.36,409.99 619.43,410.4 620.49,410.32 621.56,410.55 622.62,410.55 623.69,410.49 624.75,410.34 625.81,410.57 626.88,410.91 627.94,411.04 629.01,411.15 630.07,411.13 631.14,411.28 632.2,411.51 633.26,411.06 634.33,411.56 635.39,411.7 636.46,411.91 637.52,412.02 638.59,412.09 639.65,412.32 640.72,412.33 641.78,412.26 642.84,412.56 643.91,412.66 644.97,412.64 646.04,412.91 647.1,413.58 648.17,413.61 649.23,413.48 650.3,413.15 651.36,412.98 652.42,413.08 653.49,412.53 654.55,412.37 655.62,412.56 656.68,412.77 657.75,412.16 658.81,411.63 659.87,411.23 660.94,411.54 662,411.2 663.07,411.13 664.13,410.82 665.2,410.27 666.26,409.66 667.33,408.69 668.39,407.44 669.45,407.17 670.52,407.62 671.58,408.88 672.65,409.66 672.74,409.7" fill="none" stroke="#5f6cac" stroke-width="1.2" stroke-linejoin="round"/>
</g>
<rect x="395.3" y="360.3" width="280.7" height="127" fill="none" stroke="#b9bdbd" stroke-width="1.3"/>
<line x1="389.3" x2="395.3" y1="484.4" y2="484.4" stroke="#c6caca" stroke-width="1.1"/>
<text x="384.9" y="487.9" class="tk" text-anchor="end" textLength="10.8" lengthAdjust="spacingAndGlyphs">0.0</text>
<line x1="389.3" x2="395.3" y1="460" y2="460" stroke="#c6caca" stroke-width="1.1"/>
<text x="384.9" y="463.5" class="tk" text-anchor="end" textLength="10.8" lengthAdjust="spacingAndGlyphs">0.2</text>
<line x1="389.3" x2="395.3" y1="435.6" y2="435.6" stroke="#c6caca" stroke-width="1.1"/>
<text x="384.9" y="439.1" class="tk" text-anchor="end" textLength="10.8" lengthAdjust="spacingAndGlyphs">0.4</text>
<line x1="389.3" x2="395.3" y1="411.2" y2="411.2" stroke="#c6caca" stroke-width="1.1"/>
<text x="384.9" y="414.7" class="tk" text-anchor="end" textLength="10.8" lengthAdjust="spacingAndGlyphs">0.6</text>
<line x1="389.3" x2="395.3" y1="386.8" y2="386.8" stroke="#c6caca" stroke-width="1.1"/>
<text x="384.9" y="390.3" class="tk" text-anchor="end" textLength="10.8" lengthAdjust="spacingAndGlyphs">0.8</text>
<line x1="389.3" x2="395.3" y1="362.4" y2="362.4" stroke="#c6caca" stroke-width="1.1"/>
<text x="384.9" y="365.9" class="tk" text-anchor="end" textLength="10.8" lengthAdjust="spacingAndGlyphs">1.0</text>
<line x1="397.5" x2="397.5" y1="487.3" y2="492.3" stroke="#c6caca" stroke-width="1.1"/>
<text x="397.5" y="507.9" class="tk" text-anchor="middle" textLength="4.8" lengthAdjust="spacingAndGlyphs">0</text>
<line x1="486.2" x2="486.2" y1="487.3" y2="492.3" stroke="#c6caca" stroke-width="1.1"/>
<text x="486.2" y="507.9" class="tk" text-anchor="middle" textLength="9.6" lengthAdjust="spacingAndGlyphs">10</text>
<line x1="574.9" x2="574.9" y1="487.3" y2="492.3" stroke="#c6caca" stroke-width="1.1"/>
<text x="574.9" y="507.9" class="tk" text-anchor="middle" textLength="9.6" lengthAdjust="spacingAndGlyphs">20</text>
<line x1="663.6" x2="663.6" y1="487.3" y2="492.3" stroke="#c6caca" stroke-width="1.1"/>
<text x="663.6" y="507.9" class="tk" text-anchor="middle" textLength="9.6" lengthAdjust="spacingAndGlyphs">30</text>
<text x="535.65" y="527.3" class="ax" text-anchor="middle" textLength="18.4" lengthAdjust="spacingAndGlyphs">Year</text>
<text transform="translate(362.3,423.4) rotate(-90)" class="ax" text-anchor="middle" textLength="20" lengthAdjust="spacingAndGlyphs">AUC</text>
<text x="403.9" y="475.9" class="ci" textLength="86.1" lengthAdjust="spacingAndGlyphs">C-index =0.5807</text>
</g>
<g>
<text x="39.1" y="584.6" class="lb">(E) BRI</text>
<text x="186.9" y="609.2" class="tt" text-anchor="middle" textLength="210.8" lengthAdjust="spacingAndGlyphs">Time-Dependent Area Under the Curve</text>
<text x="187.4" y="623" class="st" text-anchor="middle" textLength="92.2" lengthAdjust="spacingAndGlyphs">95% Confidence Limits</text>
<rect x="47.3" y="639.4" width="280.2" height="127" fill="#fff"/>
<line x1="47.3" x2="325.5" y1="763.5" y2="763.5" stroke="#efefef" stroke-width="1"/>
<line x1="47.3" x2="325.5" y1="739.1" y2="739.1" stroke="#efefef" stroke-width="1"/>
<line x1="47.3" x2="325.5" y1="714.7" y2="714.7" stroke="#efefef" stroke-width="1"/>
<line x1="47.3" x2="325.5" y1="690.3" y2="690.3" stroke="#efefef" stroke-width="1"/>
<line x1="47.3" x2="325.5" y1="665.9" y2="665.9" stroke="#efefef" stroke-width="1"/>
<line x1="47.3" x2="325.5" y1="641.5" y2="641.5" stroke="#efefef" stroke-width="1"/>
<line x1="47.3" x2="327.5" y1="702.5" y2="702.5" stroke="#b0b0b0" stroke-width="1.1"/>
<g class="d">
<polygon points="50.44,668.59 50.79,663.19 51.15,661.98 51.5,665.91 51.86,669.79 52.21,672.91 52.56,676.94 52.92,680.5 53.27,684.78 53.62,686.79 53.98,688.5 54.33,689.59 54.69,690.41 55.04,690.64 55.4,692.15 55.75,693.2 56.1,694.76 56.46,695.23 56.81,695.14 57.17,695.88 57.52,696.35 57.87,697.04 58.23,697.16 58.58,696.98 58.94,697.28 59.29,697.8 59.64,697.5 60,696.92 60.35,696.27 60.71,695.52 61.06,695.49 61.41,694.98 61.77,694.69 62.12,694.05 62.48,694.44 62.83,694.67 63.18,694.64 63.54,694.54 63.89,694.84 64.25,695.28 64.6,695.46 64.95,695.45 65.31,695.12 65.66,694.41 66.02,694.5 66.37,694.34 66.72,693.53 67.08,693.8 67.43,693.46 67.79,692.49 68.14,692.38 68.49,691.67 68.85,691.5 69.2,692.14 69.56,691.42 69.91,691.53 70.26,691.63 70.62,691.4 70.97,691.6 71.33,691.68 71.68,691.34 72.03,691.45 72.39,691.53 72.74,691.26 73.1,691.18 73.45,690.92 73.8,690.66 74.16,690.71 74.51,690.55 74.87,690.01 75.22,690.74 75.57,690.74 75.93,690.84 76.28,691.44 76.64,691.77 76.99,691.77 77.34,692.18 77.7,692.6 78.05,692.9 78.41,693.07 78.76,693.12 79.11,692.9 79.47,693.33 79.82,693.5 80.18,693.34 80.53,693.44 80.88,693.57 81.24,693.89 81.59,694 81.95,694.38 82.3,694.38 82.65,694.46 83.01,694.9 83.36,694.68 83.72,694.93 84.07,695.62 84.42,695.61 84.78,695.92 85.84,696.23 86.9,696.15 87.96,696.14 89.03,695.99 90.09,695.61 91.15,695.62 92.21,694.91 93.27,695.14 94.34,695.39 95.4,695.56 96.46,695.37 97.52,695.35 98.58,695.81 99.65,695.58 100.71,695.39 101.77,695.8 102.83,696.18 103.89,696.09 104.96,696.12 106.02,696.49 107.08,696.37 108.14,696.46 109.2,696.08 110.27,695.85 111.33,695.77 112.39,695.41 113.45,695.7 114.51,695.27 115.58,695.46 116.64,695.58 117.7,695.16 118.76,695.2 119.82,695.34 120.89,695.27 121.95,695.28 123.01,695.02 124.07,695.08 125.13,694.79 126.2,694.58 127.26,695.22 128.32,695.19 129.38,695.33 130.44,695.08 131.5,695.06 132.57,695.2 133.63,695.09 134.69,694.85 135.75,695.73 136.81,695.84 137.88,695.61 138.94,695.87 140,695.8 141.06,695.99 142.12,696.04 143.19,696.18 144.25,695.92 145.31,695.86 146.37,696.46 147.43,696.55 148.5,696.04 149.56,695.57 150.62,695.75 151.68,695.26 152.74,695 153.81,695.09 154.87,694.91 155.93,694.41 156.99,694.09 158.05,694.43 159.12,694.45 160.18,694 161.24,694.01 162.3,693.97 163.36,694.14 164.43,694.22 165.49,694.33 166.55,693.88 167.61,693.29 168.67,693.71 169.74,693.87 170.8,694.06 171.86,693.79 172.92,693.72 173.98,693.31 175.05,693.24 176.11,693.4 177.17,693.38 178.23,693.31 179.29,693.48 180.36,692.81 181.42,693.43 182.48,693.15 183.54,693.48 184.6,693.17 185.67,692.86 186.73,692.47 187.79,692.65 188.85,692.39 189.91,692.28 190.98,692.36 192.04,691.91 193.1,692.08 194.16,692.05 195.22,691.9 196.29,691.77 197.35,691.7 198.41,691.54 199.47,690.91 200.53,691.34 201.6,691 202.66,690.7 203.72,691.04 204.78,691.36 205.84,691.01 206.91,690.53 207.97,690.97 209.03,690.49 210.09,689.84 211.15,690.35 212.22,690.43 213.28,690.18 214.34,690.07 215.4,689.45 216.46,689.53 217.53,689.42 218.59,689.37 219.65,689.21 220.71,689.32 221.77,689.53 222.84,689.37 223.9,689.4 224.96,688.97 226.02,689.21 227.08,689.05 228.15,688.76 229.21,688.78 230.27,688.54 231.33,688.37 232.39,688.14 233.46,688.06 234.52,687.91 235.58,687.93 236.64,688.08 237.7,687.96 238.77,687.93 239.83,687.94 240.89,687.95 241.95,688.28 243.01,688.17 244.08,688.43 245.14,688 246.2,687.84 247.26,687.75 248.33,687.97 249.39,687.91 250.45,688.07 251.51,687.95 252.57,687.23 253.64,687 254.7,687.23 255.76,687.84 256.82,687.74 257.88,687.61 258.95,687.13 260.01,686.71 261.07,686.99 262.13,686.85 263.19,686.44 264.26,686.63 265.32,686.69 266.38,686.65 267.44,686.36 268.5,686.13 269.57,686.3 270.63,686.61 271.69,686.61 272.75,686.72 273.81,686.13 274.88,685.98 275.94,686.11 277,685.55 278.06,685.54 279.12,685.96 280.19,685.94 281.25,686.06 282.31,685.33 283.37,685.4 284.43,685.61 285.5,685.82 286.56,685.83 287.62,685.3 288.68,685.45 289.74,685.13 290.81,685.11 291.87,685.13 292.93,685.04 293.99,684.84 295.05,684.89 296.12,685.64 297.18,685.49 298.24,685.02 299.3,685.29 300.36,685.26 301.43,685.43 302.49,685.35 303.55,685.63 304.61,685.55 305.67,685.26 306.74,684.82 307.8,684.41 308.86,684.44 309.92,683.81 310.98,683.5 312.05,683.08 313.11,682.52 314.17,682.5 315.23,682.05 316.29,681.79 317.36,681.05 318.42,680.07 319.48,679.39 320.54,678.62 321.6,678.02 322.67,677.11 323.73,677.9 324.17,678.38 324.17,696.28 323.73,695.32 322.67,693.27 321.6,691.31 320.54,689.98 319.48,689.27 318.42,688.94 317.36,688.43 316.29,688.17 315.23,688.01 314.17,688.44 313.11,688.67 312.05,688.54 310.98,688.99 309.92,689.31 308.86,689.95 307.8,690.29 306.74,690.6 305.67,690.98 304.61,690.92 303.55,690.61 302.49,690.27 301.43,690.38 300.36,690.49 299.3,690.23 298.24,690.2 297.18,689.76 296.12,689.55 295.05,689.91 293.99,690.09 292.93,689.97 291.87,690.23 290.81,690.56 289.74,690.13 288.68,690.23 287.62,689.8 286.56,690.01 285.5,690.67 284.43,690.37 283.37,690.34 282.31,690.18 281.25,690.29 280.19,690.3 279.12,690.6 278.06,690.69 277,690.52 275.94,690.65 274.88,690.61 273.81,690.75 272.75,691.16 271.69,691.32 270.63,691.36 269.57,690.73 268.5,691.04 267.44,691.04 266.38,691.29 265.32,691.42 264.26,691.46 263.19,691.71 262.13,691.03 261.07,691.82 260.01,691.98 258.95,692.26 257.88,692.01 256.82,692.08 255.76,692.24 254.7,692.07 253.64,692.19 252.57,691.81 251.51,691.88 250.45,691.94 249.39,692.63 248.33,692.83 247.26,693.05 246.2,693.24 245.14,693.06 244.08,693.16 243.01,692.7 241.95,692.67 240.89,692.82 239.83,692.59 238.77,692.7 237.7,693.19 236.64,693.27 235.58,692.73 234.52,693.12 233.46,692.87 232.39,692.84 231.33,693.18 230.27,693.13 229.21,693.34 228.15,693.07 227.08,693.66 226.02,693.7 224.96,694.17 223.9,694.21 222.84,694.3 221.77,694.02 220.71,694.23 219.65,694.31 218.59,694.02 217.53,693.8 216.46,694.06 215.4,694.04 214.34,694.4 213.28,694.41 212.22,694.45 211.15,694.41 210.09,694.74 209.03,694.47 207.97,694.87 206.91,694.8 205.84,694.65 204.78,695.27 203.72,695.31 202.66,695.28 201.6,695.61 200.53,695.85 199.47,695.66 198.41,695.93 197.35,696.18 196.29,696.24 195.22,696.07 194.16,696.25 193.1,696.44 192.04,696.12 190.98,696.56 189.91,696.93 188.85,696.75 187.79,696.96 186.73,697.4 185.67,697.6 184.6,697.82 183.54,697.45 182.48,697.78 181.42,697.67 180.36,697.44 179.29,697.94 178.23,698.02 177.17,698.54 176.11,698.73 175.05,698.54 173.98,698.38 172.92,698.82 171.86,698.76 170.8,698.64 169.74,698.81 168.67,698.76 167.61,698.24 166.55,698.41 165.49,698.3 164.43,698.33 163.36,698.45 162.3,698.35 161.24,698.4 160.18,698.63 159.12,698.82 158.05,698.87 156.99,699.03 155.93,699.23 154.87,699.71 153.81,699.45 152.74,700.33 151.68,700.35 150.62,700.86 149.56,701.38 148.5,701.74 147.43,701.58 146.37,701.97 145.31,701.76 144.25,701.72 143.19,701.53 142.12,701.26 141.06,701.33 140,701.21 138.94,700.72 137.88,700.87 136.81,701.62 135.75,701.12 134.69,700.76 133.63,701.39 132.57,700.85 131.5,701.23 130.44,701.29 129.38,701.49 128.32,701.3 127.26,701.25 126.2,700.93 125.13,701.07 124.07,700.95 123.01,701.48 121.95,701.39 120.89,701.02 119.82,701.03 118.76,700.93 117.7,701.06 116.64,700.95 115.58,701.07 114.51,701.58 113.45,701.49 112.39,701.34 111.33,701.77 110.27,701.8 109.2,702.79 108.14,703.38 107.08,703.46 106.02,703.24 104.96,703.04 103.89,702.4 102.83,702.44 101.77,702.71 100.71,702.38 99.65,703.25 98.58,703.2 97.52,703.06 96.46,703.2 95.4,703.34 94.34,703.56 93.27,703.53 92.21,703.26 91.15,703.27 90.09,703.08 89.03,703.15 87.96,703.81 86.9,703.74 85.84,703.76 84.78,703.24 84.42,702.8 84.07,702.51 83.72,702.12 83.36,702.1 83.01,702.04 82.65,702.53 82.3,702.39 81.95,702.58 81.59,702.43 81.24,701.8 80.88,701.55 80.53,701.8 80.18,701.83 79.82,701.6 79.47,701.44 79.11,701.09 78.76,700.77 78.41,700.95 78.05,700.99 77.7,701.12 77.34,700.5 76.99,700.76 76.64,700.66 76.28,701.04 75.93,700.69 75.57,700.41 75.22,700.48 74.87,700.2 74.51,700.59 74.16,701.18 73.8,701.25 73.45,702.11 73.1,702.05 72.74,702.31 72.39,702.62 72.03,703.21 71.68,703.66 71.33,703.27 70.97,703.49 70.62,703.84 70.26,704.04 69.91,704.36 69.56,704.32 69.2,704.62 68.85,704.01 68.49,704.41 68.14,704.35 67.79,704.38 67.43,705.75 67.08,707.1 66.72,707.92 66.37,709.07 66.02,710.54 65.66,710.37 65.31,709.61 64.95,709.7 64.6,709.37 64.25,709.36 63.89,709.2 63.54,709.07 63.18,709.19 62.83,708.54 62.48,708.8 62.12,708.72 61.77,708.63 61.41,708.79 61.06,709.34 60.71,710.54 60.35,711.44 60,712.16 59.64,713.26 59.29,713.71 58.94,714.21 58.58,715.63 58.23,715.94 57.87,716.23 57.52,716.54 57.17,716.88 56.81,717.16 56.46,717.36 56.1,717.54 55.75,717.55 55.4,718.18 55.04,718.72 54.69,719.17 54.33,719.51 53.98,720.36 53.62,720.6 53.27,722.05 52.92,722.41 52.56,724.25 52.21,725.18 51.86,725.56 51.5,726.59 51.15,717.33 50.79,698.62 50.44,680.48" fill="#a3abd6" fill-opacity="0.8"/>
<polyline points="50.44,674.72 50.79,679.84 51.15,684.69 51.5,689.5 51.86,694.9 52.21,697.33 52.56,698.09 52.92,699.37 53.27,700.35 53.62,700.65 53.98,701.71 54.33,702.41 54.69,703.07 55.04,703.3 55.4,703.87 55.75,704.07 56.1,704.59 56.46,704.73 56.81,705.02 57.17,705.31 57.52,705.86 57.87,705.88 58.23,706.55 58.58,707.22 58.94,706.97 59.29,707.08 59.64,706.5 60,706.12 60.35,705.26 60.71,704.36 61.06,703.15 61.41,702.54 61.77,701.6 62.12,700.57 62.48,700.48 62.83,700.72 63.18,701.01 63.54,701.12 63.89,701.31 64.25,701.48 64.6,701.77 64.95,702.49 65.31,702.74 65.66,702.59 66.02,702.05 66.37,701.52 66.72,700.97 67.08,700.53 67.43,700.43 67.79,699.79 68.14,699.36 68.49,699.21 68.85,699.27 69.2,698.86 69.56,698.71 69.91,698.3 70.26,697.83 70.62,697.22 70.97,697.01 71.33,697.08 71.68,696.99 72.03,696.58 72.39,696.8 72.74,696.42 73.1,696.09 73.45,695.92 73.8,695.75 74.16,695.93 74.51,695.34 74.87,695.14 75.22,695.11 75.57,695.28 75.93,695.54 76.28,695.9 76.64,695.83 76.99,695.54 77.34,695.6 77.7,696.46 78.05,696.92 78.41,696.56 78.76,696.92 79.11,697.2 79.47,697.16 79.82,697.27 80.18,697.52 80.53,697.66 80.88,697.66 81.24,698.1 81.59,698.05 81.95,697.89 82.3,698.32 82.65,698.5 83.01,698.24 83.36,698.14 83.72,698.15 84.07,698.69 84.42,698.86 84.78,699.13 85.84,699.78 86.9,700.28 87.96,699.93 89.03,699.86 90.09,699.34 91.15,699.68 92.21,699.68 93.27,699.37 94.34,699.57 95.4,699.44 96.46,699.14 97.52,698.99 98.58,699.07 99.65,698.74 100.71,698.95 101.77,698.74 102.83,699.03 103.89,699.35 104.96,699.56 106.02,699.3 107.08,699.22 108.14,699.35 109.2,699.33 110.27,698.95 111.33,698.57 112.39,698.53 113.45,698.28 114.51,698.49 115.58,698.81 116.64,698.7 117.7,698.69 118.76,698.67 119.82,698.81 120.89,698.78 121.95,699.22 123.01,699.13 124.07,698.93 125.13,699 126.2,698.89 127.26,698.88 128.32,698.48 129.38,698.36 130.44,698.27 131.5,698.28 132.57,698.01 133.63,698.3 134.69,698.84 135.75,698.98 136.81,698.93 137.88,698.64 138.94,698.61 140,698.35 141.06,698.08 142.12,698.33 143.19,698.43 144.25,698.4 145.31,698.52 146.37,698.96 147.43,699.04 148.5,698.61 149.56,698.39 150.62,697.92 151.68,697.43 152.74,697.47 153.81,696.87 154.87,697.03 155.93,696.97 156.99,696.53 158.05,696.57 159.12,696.68 160.18,696.6 161.24,696.71 162.3,696.51 163.36,696.45 164.43,696.26 165.49,695.85 166.55,696.13 167.61,695.89 168.67,695.84 169.74,695.74 170.8,695.49 171.86,695.46 172.92,696.09 173.98,695.64 175.05,695.71 176.11,695.58 177.17,695.65 178.23,695.48 179.29,696.1 180.36,695.89 181.42,695.74 182.48,695.45 183.54,695.34 184.6,694.92 185.67,694.84 186.73,694.87 187.79,694.72 188.85,694.38 189.91,694.28 190.98,694.19 192.04,694.51 193.1,694.44 194.16,694.51 195.22,694.52 196.29,694.32 197.35,694.18 198.41,693.72 199.47,694.08 200.53,693.25 201.6,693.11 202.66,693 203.72,692.96 204.78,692.97 205.84,692.98 206.91,692.97 207.97,692.29 209.03,692.28 210.09,692.49 211.15,692.33 212.22,692.33 213.28,692.07 214.34,691.54 215.4,691.61 216.46,691.66 217.53,691.53 218.59,691.96 219.65,691.83 220.71,691.46 221.77,691.38 222.84,691.39 223.9,691.1 224.96,690.95 226.02,690.84 227.08,690.86 228.15,691.03 229.21,690.99 230.27,691.06 231.33,691.16 232.39,690.99 233.46,690.9 234.52,690.93 235.58,691.34 236.64,691.11 237.7,690.95 238.77,690.96 239.83,690.98 240.89,690.72 241.95,690.42 243.01,691.01 244.08,690.87 245.14,690.39 246.2,690.1 247.26,690.17 248.33,690.2 249.39,689.84 250.45,689.9 251.51,689.6 252.57,689.49 253.64,689.52 254.7,689.23 255.76,689.33 256.82,689.34 257.88,689.18 258.95,689.07 260.01,689.3 261.07,689.17 262.13,689.12 263.19,688.92 264.26,688.79 265.32,689.12 266.38,688.8 267.44,688.89 268.5,688.82 269.57,688.84 270.63,688.96 271.69,688.45 272.75,688.49 273.81,688.58 274.88,688.19 275.94,688.13 277,688.41 278.06,687.68 279.12,687.86 280.19,687.88 281.25,688.1 282.31,687.69 283.37,687.39 284.43,687.38 285.5,687.39 286.56,687.86 287.62,687.8 288.68,687.62 289.74,687.46 290.81,687.17 291.87,687.44 292.93,687.65 293.99,687.63 295.05,687.42 296.12,687.46 297.18,687.55 298.24,688.11 299.3,687.62 300.36,687.66 301.43,687.21 302.49,687.46 303.55,687.54 304.61,687.43 305.67,687.06 306.74,687.27 307.8,687.1 308.86,687.21 309.92,686.97 310.98,686.44 312.05,686.01 313.11,686.11 314.17,686.04 315.23,685.5 316.29,684.64 317.36,684.66 318.42,684.43 319.48,684.23 320.54,683.43 321.6,683.82 322.67,685.41 323.73,687.18 324.17,687.99" fill="none" stroke="#5f6cac" stroke-width="1.2" stroke-linejoin="round"/>
</g>
<rect x="47.3" y="639.4" width="280.2" height="127" fill="none" stroke="#b9bdbd" stroke-width="1.3"/>
<line x1="41.3" x2="47.3" y1="763.5" y2="763.5" stroke="#c6caca" stroke-width="1.1"/>
<text x="36.9" y="767" class="tk" text-anchor="end" textLength="10.8" lengthAdjust="spacingAndGlyphs">0.0</text>
<line x1="41.3" x2="47.3" y1="739.1" y2="739.1" stroke="#c6caca" stroke-width="1.1"/>
<text x="36.9" y="742.6" class="tk" text-anchor="end" textLength="10.8" lengthAdjust="spacingAndGlyphs">0.2</text>
<line x1="41.3" x2="47.3" y1="714.7" y2="714.7" stroke="#c6caca" stroke-width="1.1"/>
<text x="36.9" y="718.2" class="tk" text-anchor="end" textLength="10.8" lengthAdjust="spacingAndGlyphs">0.4</text>
<line x1="41.3" x2="47.3" y1="690.3" y2="690.3" stroke="#c6caca" stroke-width="1.1"/>
<text x="36.9" y="693.8" class="tk" text-anchor="end" textLength="10.8" lengthAdjust="spacingAndGlyphs">0.6</text>
<line x1="41.3" x2="47.3" y1="665.9" y2="665.9" stroke="#c6caca" stroke-width="1.1"/>
<text x="36.9" y="669.4" class="tk" text-anchor="end" textLength="10.8" lengthAdjust="spacingAndGlyphs">0.8</text>
<line x1="41.3" x2="47.3" y1="641.5" y2="641.5" stroke="#c6caca" stroke-width="1.1"/>
<text x="36.9" y="645" class="tk" text-anchor="end" textLength="10.8" lengthAdjust="spacingAndGlyphs">1.0</text>
<line x1="49.2" x2="49.2" y1="766.4" y2="771.4" stroke="#c6caca" stroke-width="1.1"/>
<text x="49.2" y="787" class="tk" text-anchor="middle" textLength="4.8" lengthAdjust="spacingAndGlyphs">0</text>
<line x1="137.7" x2="137.7" y1="766.4" y2="771.4" stroke="#c6caca" stroke-width="1.1"/>
<text x="137.7" y="787" class="tk" text-anchor="middle" textLength="9.6" lengthAdjust="spacingAndGlyphs">10</text>
<line x1="226.2" x2="226.2" y1="766.4" y2="771.4" stroke="#c6caca" stroke-width="1.1"/>
<text x="226.2" y="787" class="tk" text-anchor="middle" textLength="9.6" lengthAdjust="spacingAndGlyphs">20</text>
<line x1="314.7" x2="314.7" y1="766.4" y2="771.4" stroke="#c6caca" stroke-width="1.1"/>
<text x="314.7" y="787" class="tk" text-anchor="middle" textLength="9.6" lengthAdjust="spacingAndGlyphs">30</text>
<text x="187.4" y="806.4" class="ax" text-anchor="middle" textLength="18.4" lengthAdjust="spacingAndGlyphs">Year</text>
<text transform="translate(14.2,702.5) rotate(-90)" class="ax" text-anchor="middle" textLength="20" lengthAdjust="spacingAndGlyphs">AUC</text>
<text x="54.5" y="757.6" class="ci" textLength="85.9" lengthAdjust="spacingAndGlyphs">C-index =0.5657</text>
</g>
<g>
<text x="386.2" y="584.6" class="lb">(F) ABSI</text>
<text x="535.15" y="610.2" class="tt" text-anchor="middle" textLength="210.8" lengthAdjust="spacingAndGlyphs">Time-Dependent Area Under the Curve</text>
<text x="535.65" y="624" class="st" text-anchor="middle" textLength="92.2" lengthAdjust="spacingAndGlyphs">95% Confidence Limits</text>
<rect x="395.3" y="640.4" width="280.7" height="127" fill="#fff"/>
<line x1="395.3" x2="674" y1="764.5" y2="764.5" stroke="#efefef" stroke-width="1"/>
<line x1="395.3" x2="674" y1="740.1" y2="740.1" stroke="#efefef" stroke-width="1"/>
<line x1="395.3" x2="674" y1="715.7" y2="715.7" stroke="#efefef" stroke-width="1"/>
<line x1="395.3" x2="674" y1="691.3" y2="691.3" stroke="#efefef" stroke-width="1"/>
<line x1="395.3" x2="674" y1="666.9" y2="666.9" stroke="#efefef" stroke-width="1"/>
<line x1="395.3" x2="674" y1="642.5" y2="642.5" stroke="#efefef" stroke-width="1"/>
<line x1="395.3" x2="676" y1="703.5" y2="703.5" stroke="#b0b0b0" stroke-width="1.1"/>
<g class="d">
<polygon points="398.39,713.49 398.74,693.5 399.1,678.3 399.45,677.89 399.81,677.26 400.16,676.16 400.52,675.76 400.87,675.19 401.23,674.91 401.58,673.9 401.94,672.93 402.29,671.28 402.64,670.59 403,671.58 403.35,672.98 403.71,674.35 404.06,676.52 404.42,678.81 404.77,679.22 405.13,679.37 405.48,678.74 405.84,678.41 406.19,678.71 406.55,678.64 406.9,678.33 407.26,677.89 407.61,677.87 407.97,678.11 408.32,678.06 408.68,677.52 409.03,677.06 409.39,676.47 409.74,676.58 410.1,676.68 410.45,677.01 410.81,677.58 411.16,678.4 411.51,678.59 411.87,679 412.22,679.5 412.58,679.93 412.93,680.29 413.29,680.26 413.64,679.96 414,679.61 414.35,679.34 414.71,678.68 415.06,678.86 415.42,678.74 415.77,677.73 416.13,677.87 416.48,678.14 416.84,678.11 417.19,678.38 417.55,678.05 417.9,678.62 418.26,678.74 418.61,678.88 418.97,679.3 419.32,679.72 419.68,679.64 420.03,679.38 420.38,679.35 420.74,679.82 421.09,679.37 421.45,679.06 421.8,679.39 422.16,679.12 422.51,678.53 422.87,678.6 423.22,678.4 423.58,678.69 423.93,679.19 424.29,679.43 424.64,680.27 425,680.38 425.35,680.76 425.71,681.08 426.06,681.03 426.42,681.39 426.77,681.7 427.13,681.82 427.48,681.14 427.84,681.03 428.19,681.33 428.55,681.61 428.9,681.55 429.25,680.88 429.61,680.94 429.96,681.27 430.32,681.12 430.67,681.3 431.03,681.49 431.38,681.75 431.74,682.06 432.09,681.87 432.45,682.09 432.8,681.88 433.16,681.94 434.22,682.88 435.29,682.81 436.35,682.77 437.42,682.55 438.48,681.88 439.54,681.18 440.61,681.09 441.67,680.94 442.74,681.35 443.8,681.28 444.87,681.06 445.93,680.82 446.99,681.48 448.06,681.67 449.12,681.83 450.19,681.47 451.25,681.52 452.32,681.66 453.38,681.6 454.45,681.2 455.51,681.18 456.57,681.21 457.64,681.02 458.7,680.81 459.77,681 460.83,681.31 461.9,681.24 462.96,680.99 464.03,680.78 465.09,680.58 466.15,680.44 467.22,680.52 468.28,680.71 469.35,680.35 470.41,680.54 471.48,680.51 472.54,681.11 473.6,681.12 474.67,681.22 475.73,680.92 476.8,681.35 477.86,681.53 478.93,681.47 479.99,681.36 481.06,681.93 482.12,682.09 483.18,681.72 484.25,681.47 485.31,681.59 486.38,681.61 487.44,681.58 488.51,681.4 489.57,681.46 490.63,681.89 491.7,681.7 492.76,681.73 493.83,681.74 494.89,681.91 495.96,681.56 497.02,681.24 498.09,680.85 499.15,680.99 500.21,680.87 501.28,680.96 502.34,681.04 503.41,680.58 504.47,680.42 505.54,680.3 506.6,680.01 507.67,680.3 508.73,680.09 509.79,679.87 510.86,680.06 511.92,680.08 512.99,680.41 514.05,680.72 515.12,680.51 516.18,680.28 517.24,680.55 518.31,680.95 519.37,680.92 520.44,680.76 521.5,680.78 522.57,680.86 523.63,681.03 524.7,681 525.76,680.71 526.82,680.66 527.89,680.79 528.95,680.74 530.02,680.85 531.08,680.75 532.15,681.08 533.21,680.99 534.28,681 535.34,681.19 536.4,680.98 537.47,680.62 538.53,680.44 539.6,680.2 540.66,680.63 541.73,680.79 542.79,681.02 543.85,680.81 544.92,680.94 545.98,680.75 547.05,680.57 548.11,680.57 549.18,680.26 550.24,680.03 551.31,679.98 552.37,680.1 553.43,679.92 554.5,680.13 555.56,680.12 556.63,680.11 557.69,680.36 558.76,680.36 559.82,680.19 560.89,680.18 561.95,680.62 563.01,680.18 564.08,680.6 565.14,680.82 566.21,680.22 567.27,680.36 568.34,680.72 569.4,680.13 570.46,679.9 571.53,680.24 572.59,680.31 573.66,680.41 574.72,680.45 575.79,680.51 576.85,679.76 577.92,680.04 578.98,680.09 580.04,680.6 581.11,680.64 582.17,680.23 583.24,679.83 584.3,680.05 585.37,680.22 586.43,680.96 587.5,680.44 588.56,680.54 589.62,680.47 590.69,680.84 591.75,680.58 592.82,680.29 593.88,680.17 594.95,680.31 596.01,679.74 597.08,679.6 598.14,679.69 599.2,679.96 600.27,679.35 601.33,679.6 602.4,679.34 603.46,679.1 604.53,678.91 605.59,678.89 606.65,679.02 607.72,679.04 608.78,678.95 609.85,678.93 610.91,678.81 611.98,678.47 613.04,678.78 614.11,678.68 615.17,678.58 616.23,678.63 617.3,678.15 618.36,677.46 619.43,678.05 620.49,677.73 621.56,677.43 622.62,677.57 623.69,677.74 624.75,678.29 625.81,678.72 626.88,678.65 627.94,678.44 629.01,678.73 630.07,679.61 631.14,679.5 632.2,679.79 633.26,679.66 634.33,679.21 635.39,679.23 636.46,679.26 637.52,679.07 638.59,679.18 639.65,679.2 640.72,679.23 641.78,679.19 642.84,679.11 643.91,679.5 644.97,680.14 646.04,679.86 647.1,679.49 648.17,679.76 649.23,679.48 650.3,679.42 651.36,679.32 652.42,679.03 653.49,678.78 654.55,678.68 655.62,678.98 656.68,678.69 657.75,678.15 658.81,677.91 659.87,677.79 660.94,677.05 662,676.54 663.07,675.07 664.13,673.94 665.2,673.08 666.26,671.98 667.33,671.14 668.39,670.36 669.45,668.79 670.52,668.52 671.58,669.83 672.65,671.49 672.74,671.22 672.74,684.55 672.65,684.49 671.58,682.33 670.52,679.32 669.45,678.2 668.39,678.33 667.33,678.69 666.26,679.82 665.2,680.33 664.13,680.8 663.07,681.32 662,681.59 660.94,681.73 659.87,681.85 658.81,682.08 657.75,682.28 656.68,682.38 655.62,682.59 654.55,682.69 653.49,683.09 652.42,682.78 651.36,682.97 650.3,683.33 649.23,683.24 648.17,683.21 647.1,682.79 646.04,682.51 644.97,682.35 643.91,682.07 642.84,682.12 641.78,682.6 640.72,682.79 639.65,682.81 638.59,682.44 637.52,682.23 636.46,682.32 635.39,682.81 634.33,682.87 633.26,682.63 632.2,682.44 631.14,682.43 630.07,682.17 629.01,682.07 627.94,681.58 626.88,681.45 625.81,681.47 624.75,681.42 623.69,681.01 622.62,680.96 621.56,681.25 620.49,681.7 619.43,681.82 618.36,681.92 617.3,682.2 616.23,682.38 615.17,682.21 614.11,682.43 613.04,681.95 611.98,681.99 610.91,682.01 609.85,682.05 608.78,681.99 607.72,682.38 606.65,682.58 605.59,682.54 604.53,682.78 603.46,682.85 602.4,682.86 601.33,682.99 600.27,683.4 599.2,683.33 598.14,683.29 597.08,683.14 596.01,683.28 594.95,683.16 593.88,683.68 592.82,682.98 591.75,683.35 590.69,683.78 589.62,683.65 588.56,683.35 587.5,683.52 586.43,683.62 585.37,684.05 584.3,683.89 583.24,683.97 582.17,684.25 581.11,683.91 580.04,683.93 578.98,683.95 577.92,684.15 576.85,684.39 575.79,684.19 574.72,684.22 573.66,684.12 572.59,683.89 571.53,684.18 570.46,684.1 569.4,683.81 568.34,683.76 567.27,683.81 566.21,683.71 565.14,683.37 564.08,683.23 563.01,683.09 561.95,683.26 560.89,683.2 559.82,683.5 558.76,682.94 557.69,683.36 556.63,682.9 555.56,683.4 554.5,683.41 553.43,683.84 552.37,683.57 551.31,683.77 550.24,683.84 549.18,683.48 548.11,683.6 547.05,684.18 545.98,683.95 544.92,683.94 543.85,684.05 542.79,684.06 541.73,684.11 540.66,684.47 539.6,683.91 538.53,684.09 537.47,684.26 536.4,684.31 535.34,684.09 534.28,683.97 533.21,684.28 532.15,684.36 531.08,684.56 530.02,684.69 528.95,685.04 527.89,685.16 526.82,684.53 525.76,684.36 524.7,684.74 523.63,685.23 522.57,685 521.5,684.74 520.44,684.64 519.37,684.73 518.31,684.66 517.24,684.02 516.18,684.69 515.12,683.98 514.05,684.33 512.99,683.66 511.92,683.35 510.86,683.32 509.79,683.3 508.73,683.13 507.67,683.87 506.6,684.25 505.54,684.49 504.47,684.22 503.41,684.26 502.34,684.4 501.28,684.51 500.21,685.14 499.15,685.07 498.09,685.46 497.02,685.14 495.96,685.46 494.89,685.5 493.83,685.72 492.76,686.15 491.7,686.2 490.63,686.22 489.57,686.31 488.51,686.23 487.44,686.54 486.38,686.61 485.31,686.41 484.25,686.13 483.18,685.55 482.12,685.64 481.06,685.52 479.99,685.74 478.93,685.78 477.86,685.74 476.8,685.91 475.73,685.64 474.67,686.7 473.6,686.42 472.54,686.19 471.48,686.13 470.41,686.23 469.35,686.35 468.28,686.48 467.22,686.86 466.15,686.92 465.09,686.85 464.03,686.83 462.96,686.62 461.9,687.33 460.83,687.09 459.77,686.96 458.7,687.27 457.64,687.52 456.57,688.22 455.51,687.88 454.45,688.17 453.38,688.09 452.32,687.79 451.25,687.94 450.19,688.23 449.12,688.17 448.06,688.31 446.99,687.64 445.93,687.78 444.87,688 443.8,688.06 442.74,688.32 441.67,688.34 440.61,688.54 439.54,689.45 438.48,689.67 437.42,689.9 436.35,690.58 435.29,690.97 434.22,691.2 433.16,690.86 432.8,690.95 432.45,690.82 432.09,690.64 431.74,690.77 431.38,690.2 431.03,690.16 430.67,689.56 430.32,689.58 429.96,689.54 429.61,689.91 429.25,690.53 428.9,690.34 428.55,691.08 428.19,691.15 427.84,691.65 427.48,691.7 427.13,691.82 426.77,692.66 426.42,692.37 426.06,691.9 425.71,691.5 425.35,690.94 425,690.41 424.64,690.73 424.29,690.94 423.93,691.14 423.58,690.65 423.22,690.04 422.87,690.73 422.51,691.27 422.16,690.81 421.8,691.28 421.45,692.2 421.09,692.23 420.74,692.81 420.38,692.5 420.03,692.64 419.68,692.1 419.32,692.43 418.97,692.46 418.61,692.24 418.26,692.15 417.9,691.5 417.55,691.43 417.19,691.82 416.84,692.01 416.48,692.47 416.13,693.06 415.77,693.19 415.42,693.7 415.06,693.77 414.71,694.06 414.35,694.3 414,694.94 413.64,694.81 413.29,694.45 412.93,693.89 412.58,693.85 412.22,693.84 411.87,693.41 411.51,692.98 411.16,693.09 410.81,693.02 410.45,693.18 410.1,692.87 409.74,692.44 409.39,691.85 409.03,692.24 408.68,692.19 408.32,693.05 407.97,693.77 407.61,694.53 407.26,694.89 406.9,695.59 406.55,696.54 406.19,697 405.84,697.51 405.48,697.97 405.13,697.86 404.77,698.2 404.42,698.73 404.06,699.47 403.71,700.11 403.35,701.38 403,702.26 402.64,702.99 402.29,704.18 401.94,707.22 401.58,710.4 401.23,713.74 400.87,714.35 400.52,714.63 400.16,715.29 399.81,716.09 399.45,717.7 399.1,718.04 398.74,719.75 398.39,721.13" fill="#a3abd6" fill-opacity="0.8"/>
<polyline points="398.39,718.35 398.74,713.32 399.1,708.24 399.45,702.97 399.81,699.25 400.16,697.34 400.52,696.25 400.87,697.31 401.23,695.84 401.58,692.37 401.94,688.78 402.29,684.88 402.64,683.02 403,683.26 403.35,683.67 403.71,683.58 404.06,685.05 404.42,686.3 404.77,687.37 405.13,688.66 405.48,688.43 405.84,688.25 406.19,688.39 406.55,687.9 406.9,687.3 407.26,686.78 407.61,686.29 407.97,686.44 408.32,685.78 408.68,685.2 409.03,685.04 409.39,684.46 409.74,684.29 410.1,684.38 410.45,684.36 410.81,685.06 411.16,685.16 411.51,685.58 411.87,685.48 412.22,685.92 412.58,686.3 412.93,686.5 413.29,686.49 413.64,687.48 414,687.3 414.35,687.31 414.71,687.02 415.06,686.93 415.42,686.28 415.77,685.67 416.13,685.59 416.48,685.75 416.84,685.39 417.19,685.26 417.55,684.85 417.9,684.96 418.26,685.04 418.61,685.44 418.97,685.51 419.32,685.66 419.68,685.55 420.03,685.58 420.38,685.91 420.74,686.05 421.09,685.96 421.45,685.86 421.8,685.46 422.16,685.36 422.51,685.05 422.87,684.84 423.22,684.74 423.58,685 423.93,684.82 424.29,684.81 424.64,685.61 425,685.78 425.35,685.99 425.71,686.11 426.06,686.28 426.42,686.86 426.77,686.82 427.13,686.85 427.48,686.53 427.84,686.49 428.19,686.86 428.55,686.59 428.9,686.04 429.25,685.82 429.61,685.54 429.96,685.45 430.32,685.49 430.67,685.55 431.03,685.64 431.38,685.79 431.74,686.21 432.09,686.68 432.45,686.8 432.8,686.89 433.16,686.9 434.22,687.31 435.29,686.86 436.35,686.7 437.42,686.46 438.48,685.87 439.54,685.17 440.61,684.78 441.67,685.09 442.74,685.09 443.8,685.25 444.87,685.15 445.93,685.23 446.99,685.25 448.06,684.98 449.12,685.03 450.19,684.95 451.25,685.17 452.32,684.68 453.38,684.88 454.45,685.4 455.51,684.81 456.57,684.5 457.64,684.45 458.7,684.32 459.77,683.98 460.83,684.14 461.9,683.87 462.96,684.2 464.03,683.9 465.09,683.96 466.15,683.43 467.22,683.74 468.28,683.49 469.35,683.21 470.41,683 471.48,683.12 472.54,682.87 473.6,683.25 474.67,682.94 475.73,683.07 476.8,683.24 477.86,683.17 478.93,683.47 479.99,683.17 481.06,682.99 482.12,683.82 483.18,683.58 484.25,683.69 485.31,683.79 486.38,683.85 487.44,683.9 488.51,683.86 489.57,683.8 490.63,683.66 491.7,683.69 492.76,683.42 493.83,683.47 494.89,683.42 495.96,683.28 497.02,683.38 498.09,683.11 499.15,682.67 500.21,682.42 501.28,682.46 502.34,682.48 503.41,682.6 504.47,682.5 505.54,682.19 506.6,682.13 507.67,681.72 508.73,681.29 509.79,681.44 510.86,681.43 511.92,681.59 512.99,681.72 514.05,681.9 515.12,682.21 516.18,682.31 517.24,682.59 518.31,682.74 519.37,683.1 520.44,682.92 521.5,683.35 522.57,683.77 523.63,683.81 524.7,683.62 525.76,683.21 526.82,683.16 527.89,683.14 528.95,683.02 530.02,682.85 531.08,683 532.15,682.99 533.21,682.99 534.28,682.69 535.34,682.75 536.4,682.51 537.47,682.65 538.53,682.34 539.6,682.24 540.66,682.25 541.73,682.31 542.79,682.43 543.85,681.93 544.92,682.01 545.98,682.36 547.05,681.99 548.11,681.82 549.18,681.62 550.24,681.61 551.31,682.21 552.37,682.4 553.43,682.17 554.5,681.66 555.56,681.9 556.63,681.93 557.69,681.73 558.76,681.71 559.82,682.13 560.89,682.04 561.95,681.82 563.01,682 564.08,681.86 565.14,681.68 566.21,681.43 567.27,681.75 568.34,682.05 569.4,681.78 570.46,682.06 571.53,681.99 572.59,682.18 573.66,682.01 574.72,682.06 575.79,681.79 576.85,681.71 577.92,681.49 578.98,681.77 580.04,681.71 581.11,681.97 582.17,681.67 583.24,681.97 584.3,681.7 585.37,681.64 586.43,681.77 587.5,681.94 588.56,681.78 589.62,681.73 590.69,681.69 591.75,681.06 592.82,681.12 593.88,681.11 594.95,681.28 596.01,681.6 597.08,681.32 598.14,681.2 599.2,681.33 600.27,681.23 601.33,681.1 602.4,680.77 603.46,680.81 604.53,681.46 605.59,681.18 606.65,681.18 607.72,680.49 608.78,680.5 609.85,680.39 610.91,680.67 611.98,680.89 613.04,680.44 614.11,680.02 615.17,679.94 616.23,680.12 617.3,680.11 618.36,679.65 619.43,679.93 620.49,680.14 621.56,679.8 622.62,679.61 623.69,679.57 624.75,680.12 625.81,680.35 626.88,680.22 627.94,680.31 629.01,680.33 630.07,680.58 631.14,680.68 632.2,681.22 633.26,680.97 634.33,680.69 635.39,680.74 636.46,680.38 637.52,680.24 638.59,680.54 639.65,680.81 640.72,680.72 641.78,680.78 642.84,681.1 643.91,680.81 644.97,681.15 646.04,681.3 647.1,681.43 648.17,681.51 649.23,681.37 650.3,681.23 651.36,681.37 652.42,681.29 653.49,680.6 654.55,680.64 655.62,680.72 656.68,680.69 657.75,680.35 658.81,680.3 659.87,680.06 660.94,679.39 662,678.83 663.07,678.23 664.13,677.42 665.2,676.65 666.26,675.82 667.33,674.54 668.39,673.59 669.45,672.42 670.52,673.22 671.58,675.61 672.65,677.51 672.74,677.71" fill="none" stroke="#5f6cac" stroke-width="1.2" stroke-linejoin="round"/>
</g>
<rect x="395.3" y="640.4" width="280.7" height="127" fill="none" stroke="#b9bdbd" stroke-width="1.3"/>
<line x1="389.3" x2="395.3" y1="764.5" y2="764.5" stroke="#c6caca" stroke-width="1.1"/>
<text x="384.9" y="768" class="tk" text-anchor="end" textLength="10.8" lengthAdjust="spacingAndGlyphs">0.0</text>
<line x1="389.3" x2="395.3" y1="740.1" y2="740.1" stroke="#c6caca" stroke-width="1.1"/>
<text x="384.9" y="743.6" class="tk" text-anchor="end" textLength="10.8" lengthAdjust="spacingAndGlyphs">0.2</text>
<line x1="389.3" x2="395.3" y1="715.7" y2="715.7" stroke="#c6caca" stroke-width="1.1"/>
<text x="384.9" y="719.2" class="tk" text-anchor="end" textLength="10.8" lengthAdjust="spacingAndGlyphs">0.4</text>
<line x1="389.3" x2="395.3" y1="691.3" y2="691.3" stroke="#c6caca" stroke-width="1.1"/>
<text x="384.9" y="694.8" class="tk" text-anchor="end" textLength="10.8" lengthAdjust="spacingAndGlyphs">0.6</text>
<line x1="389.3" x2="395.3" y1="666.9" y2="666.9" stroke="#c6caca" stroke-width="1.1"/>
<text x="384.9" y="670.4" class="tk" text-anchor="end" textLength="10.8" lengthAdjust="spacingAndGlyphs">0.8</text>
<line x1="389.3" x2="395.3" y1="642.5" y2="642.5" stroke="#c6caca" stroke-width="1.1"/>
<text x="384.9" y="646" class="tk" text-anchor="end" textLength="10.8" lengthAdjust="spacingAndGlyphs">1.0</text>
<line x1="397.5" x2="397.5" y1="767.4" y2="772.4" stroke="#c6caca" stroke-width="1.1"/>
<text x="397.5" y="788" class="tk" text-anchor="middle" textLength="4.8" lengthAdjust="spacingAndGlyphs">0</text>
<line x1="486.2" x2="486.2" y1="767.4" y2="772.4" stroke="#c6caca" stroke-width="1.1"/>
<text x="486.2" y="788" class="tk" text-anchor="middle" textLength="9.6" lengthAdjust="spacingAndGlyphs">10</text>
<line x1="574.9" x2="574.9" y1="767.4" y2="772.4" stroke="#c6caca" stroke-width="1.1"/>
<text x="574.9" y="788" class="tk" text-anchor="middle" textLength="9.6" lengthAdjust="spacingAndGlyphs">20</text>
<line x1="663.6" x2="663.6" y1="767.4" y2="772.4" stroke="#c6caca" stroke-width="1.1"/>
<text x="663.6" y="788" class="tk" text-anchor="middle" textLength="9.6" lengthAdjust="spacingAndGlyphs">30</text>
<text x="535.65" y="807.4" class="ax" text-anchor="middle" textLength="18.4" lengthAdjust="spacingAndGlyphs">Year</text>
<text transform="translate(362.3,703.5) rotate(-90)" class="ax" text-anchor="middle" textLength="20" lengthAdjust="spacingAndGlyphs">AUC</text>
<text x="403.9" y="757.6" class="ci" textLength="86.1" lengthAdjust="spacingAndGlyphs">C-index =0.6358</text>
</g>
</g>
</svg>
</body></html>
